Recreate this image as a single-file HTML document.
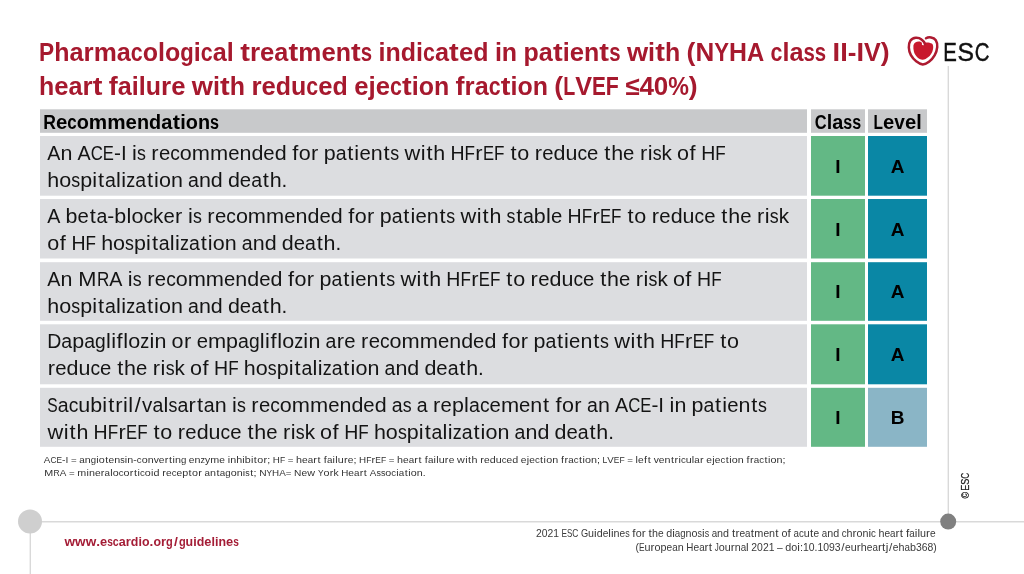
<!DOCTYPE html>
<html><head><meta charset="utf-8">
<style>
html,body{margin:0;padding:0;background:#fff;width:1024px;height:574px;overflow:hidden}
svg{display:block;will-change:transform}
text{font-family:"Liberation Sans",sans-serif}
</style></head><body>
<svg width="1024" height="574" viewBox="0 0 1024 574">
<line x1="948.3" y1="66" x2="948.3" y2="521.7" stroke="#d9d9d9" stroke-width="1.4"/>
<line x1="30" y1="521.7" x2="1024" y2="521.7" stroke="#d9d9d9" stroke-width="1.5"/>
<line x1="30.3" y1="521.7" x2="30.3" y2="574" stroke="#d9d9d9" stroke-width="1.4"/>
<circle cx="30" cy="521.6" r="12" fill="#cfcfcf"/>
<circle cx="948.2" cy="521.6" r="8" fill="#808080"/>
<svg x="905" y="34" width="36" height="34" viewBox="0 0 36 34">
<path d="M8.4 11.6 C8.8 9.2 11.2 7.6 13.8 7.6 C15.4 7.6 16.6 8.2 17.2 9.4 C19.8 8.2 24.2 8 26.8 9.6 C28.6 10.8 28.6 14.4 27.4 17.6 C25.8 21.8 21.6 25.6 17.6 25.8 C13.6 25.4 10.2 21.8 9 18 C8.4 16 8.2 13.6 8.4 11.6 Z" fill="#c8192e"/>
<circle cx="18.2" cy="9.9" r="1.4" fill="#fff"/>
<path d="M21 4.3 C23.6 2.7 28.6 3 30.8 6.2 C33.2 9.8 32.6 16.2 29.6 21.4 C26.6 26.6 21.6 30.4 17.8 30.5 C13.5 29.8 8.4 25.8 5.9 21.2 C3.4 16.6 3 10 5.5 6.5 C8 3 13.5 3 16.5 5.5 C18.5 7 19.8 8.5 19.8 10" fill="none" stroke="#ad1a30" stroke-width="2.5" stroke-linecap="round"/>
</svg>
<text font-size="25.5px" fill="#111" stroke="#111" stroke-width="0.45" transform="translate(943.13,60.8) scale(0.799,1)">E</text><text font-size="25.5px" fill="#111" stroke="#111" stroke-width="0.45" transform="translate(957.57,60.8) scale(0.972,1)">S</text><text font-size="25.5px" fill="#111" stroke="#111" stroke-width="0.45" transform="translate(974.86,60.8) scale(0.801,1)">C</text>
<rect x="40.0" y="109.3" width="767.0" height="23.5" fill="#c8c9cb"/>
<rect x="811.0" y="109.3" width="54.0" height="23.5" fill="#c8c9cb"/>
<rect x="868.0" y="109.3" width="59.0" height="23.5" fill="#c8c9cb"/>
<rect x="40.0" y="136.0" width="767.0" height="59.7" fill="#dcdde0"/>
<rect x="811.0" y="136.0" width="54.0" height="59.7" fill="#63b885"/>
<rect x="868.0" y="136.0" width="59.0" height="59.7" fill="#0a87a5"/>
<text x="838" y="172.7" font-size="19px" font-weight="bold" fill="#000" text-anchor="middle">I</text><text x="897.5" y="172.7" font-size="19px" font-weight="bold" fill="#000" text-anchor="middle">A</text>
<rect x="40.0" y="199.0" width="767.0" height="59.5" fill="#dcdde0"/>
<rect x="811.0" y="199.0" width="54.0" height="59.5" fill="#63b885"/>
<rect x="868.0" y="199.0" width="59.0" height="59.5" fill="#0a87a5"/>
<text x="838" y="235.6" font-size="19px" font-weight="bold" fill="#000" text-anchor="middle">I</text><text x="897.5" y="235.6" font-size="19px" font-weight="bold" fill="#000" text-anchor="middle">A</text>
<rect x="40.0" y="262.2" width="767.0" height="58.6" fill="#dcdde0"/>
<rect x="811.0" y="262.2" width="54.0" height="58.6" fill="#63b885"/>
<rect x="868.0" y="262.2" width="59.0" height="58.6" fill="#0a87a5"/>
<text x="838" y="298.3" font-size="19px" font-weight="bold" fill="#000" text-anchor="middle">I</text><text x="897.5" y="298.3" font-size="19px" font-weight="bold" fill="#000" text-anchor="middle">A</text>
<rect x="40.0" y="324.3" width="767.0" height="60.0" fill="#dcdde0"/>
<rect x="811.0" y="324.3" width="54.0" height="60.0" fill="#63b885"/>
<rect x="868.0" y="324.3" width="59.0" height="60.0" fill="#0a87a5"/>
<text x="838" y="361.1" font-size="19px" font-weight="bold" fill="#000" text-anchor="middle">I</text><text x="897.5" y="361.1" font-size="19px" font-weight="bold" fill="#000" text-anchor="middle">A</text>
<rect x="40.0" y="387.8" width="767.0" height="59.0" fill="#dcdde0"/>
<rect x="811.0" y="387.8" width="54.0" height="59.0" fill="#63b885"/>
<rect x="868.0" y="387.8" width="59.0" height="59.0" fill="#8ab5c6"/>
<text x="838" y="424.1" font-size="19px" font-weight="bold" fill="#000" text-anchor="middle">I</text><text x="897.5" y="424.1" font-size="19px" font-weight="bold" fill="#000" text-anchor="middle">B</text>
<text y="60.60" font-size="26.00px" font-weight="bold" fill="#a6192e"><tspan x="39.10" textLength="15.13" lengthAdjust="spacingAndGlyphs">P</tspan><tspan x="54.24" textLength="15.26" lengthAdjust="spacingAndGlyphs">h</tspan><tspan x="69.50" textLength="14.04" lengthAdjust="spacingAndGlyphs">a</tspan><tspan x="83.53">r</tspan><tspan x="93.64">m</tspan><tspan x="116.77" textLength="14.04" lengthAdjust="spacingAndGlyphs">a</tspan><tspan x="130.81" textLength="11.90" lengthAdjust="spacingAndGlyphs">c</tspan><tspan x="142.71" textLength="15.29" lengthAdjust="spacingAndGlyphs">o</tspan><tspan x="158.00" textLength="6.98" lengthAdjust="spacingAndGlyphs">l</tspan><tspan x="164.98" textLength="15.29" lengthAdjust="spacingAndGlyphs">o</tspan><tspan x="180.27" textLength="13.48" lengthAdjust="spacingAndGlyphs">g</tspan><tspan x="193.75" textLength="6.98" lengthAdjust="spacingAndGlyphs">i</tspan><tspan x="200.74" textLength="11.90" lengthAdjust="spacingAndGlyphs">c</tspan><tspan x="212.63" textLength="14.04" lengthAdjust="spacingAndGlyphs">a</tspan><tspan x="226.67" textLength="6.98" lengthAdjust="spacingAndGlyphs">l</tspan><tspan x="240.16" textLength="9.70" lengthAdjust="spacingAndGlyphs">t</tspan><tspan x="249.94">r</tspan><tspan x="260.05" textLength="14.32" lengthAdjust="spacingAndGlyphs">e</tspan><tspan x="274.37" textLength="14.04" lengthAdjust="spacingAndGlyphs">a</tspan><tspan x="288.48" textLength="9.70" lengthAdjust="spacingAndGlyphs">t</tspan><tspan x="298.26">m</tspan><tspan x="321.39" textLength="14.32" lengthAdjust="spacingAndGlyphs">e</tspan><tspan x="335.71" textLength="15.26" lengthAdjust="spacingAndGlyphs">n</tspan><tspan x="351.05" textLength="9.70" lengthAdjust="spacingAndGlyphs">t</tspan><tspan x="360.83" textLength="11.34" lengthAdjust="spacingAndGlyphs">s</tspan><tspan x="378.60" textLength="6.98" lengthAdjust="spacingAndGlyphs">i</tspan><tspan x="385.58" textLength="15.26" lengthAdjust="spacingAndGlyphs">n</tspan><tspan x="400.84" textLength="15.26" lengthAdjust="spacingAndGlyphs">d</tspan><tspan x="416.10" textLength="6.98" lengthAdjust="spacingAndGlyphs">i</tspan><tspan x="423.08" textLength="11.90" lengthAdjust="spacingAndGlyphs">c</tspan><tspan x="434.98" textLength="14.04" lengthAdjust="spacingAndGlyphs">a</tspan><tspan x="449.10" textLength="9.70" lengthAdjust="spacingAndGlyphs">t</tspan><tspan x="458.88" textLength="14.32" lengthAdjust="spacingAndGlyphs">e</tspan><tspan x="473.19" textLength="15.26" lengthAdjust="spacingAndGlyphs">d</tspan><tspan x="494.88" textLength="6.98" lengthAdjust="spacingAndGlyphs">i</tspan><tspan x="501.87" textLength="15.26" lengthAdjust="spacingAndGlyphs">n</tspan><tspan x="523.55" textLength="15.26" lengthAdjust="spacingAndGlyphs">p</tspan><tspan x="538.81" textLength="14.04" lengthAdjust="spacingAndGlyphs">a</tspan><tspan x="552.93" textLength="9.70" lengthAdjust="spacingAndGlyphs">t</tspan><tspan x="562.71" textLength="6.98" lengthAdjust="spacingAndGlyphs">i</tspan><tspan x="569.69" textLength="14.32" lengthAdjust="spacingAndGlyphs">e</tspan><tspan x="584.01" textLength="15.26" lengthAdjust="spacingAndGlyphs">n</tspan><tspan x="599.35" textLength="9.70" lengthAdjust="spacingAndGlyphs">t</tspan><tspan x="609.13" textLength="11.34" lengthAdjust="spacingAndGlyphs">s</tspan><tspan x="626.90" textLength="21.19" lengthAdjust="spacingAndGlyphs">w</tspan><tspan x="648.09" textLength="6.98" lengthAdjust="spacingAndGlyphs">i</tspan><tspan x="655.15" textLength="9.70" lengthAdjust="spacingAndGlyphs">t</tspan><tspan x="664.93" textLength="15.26" lengthAdjust="spacingAndGlyphs">h</tspan><tspan x="686.62" textLength="8.86" lengthAdjust="spacingAndGlyphs">(</tspan><tspan x="695.47">N</tspan><tspan x="714.21" textLength="14.77" lengthAdjust="spacingAndGlyphs">Y</tspan><tspan x="728.98" textLength="17.94" lengthAdjust="spacingAndGlyphs">H</tspan><tspan x="746.92" textLength="17.23" lengthAdjust="spacingAndGlyphs">A</tspan><tspan x="770.58" textLength="11.90" lengthAdjust="spacingAndGlyphs">c</tspan><tspan x="782.48" textLength="6.98" lengthAdjust="spacingAndGlyphs">l</tspan><tspan x="789.46" textLength="14.04" lengthAdjust="spacingAndGlyphs">a</tspan><tspan x="803.50" textLength="11.34" lengthAdjust="spacingAndGlyphs">s</tspan><tspan x="814.84" textLength="11.34" lengthAdjust="spacingAndGlyphs">s</tspan><tspan x="832.61" textLength="7.58" lengthAdjust="spacingAndGlyphs">I</tspan><tspan x="840.19" textLength="7.58" lengthAdjust="spacingAndGlyphs">I</tspan><tspan x="847.78">-</tspan><tspan x="856.48" textLength="7.58" lengthAdjust="spacingAndGlyphs">I</tspan><tspan x="864.06" textLength="16.81" lengthAdjust="spacingAndGlyphs">V</tspan><tspan x="880.88" textLength="8.86" lengthAdjust="spacingAndGlyphs">)</tspan></text>
<text y="94.60" font-size="26.00px" font-weight="bold" fill="#a6192e"><tspan x="38.97" textLength="15.24" lengthAdjust="spacingAndGlyphs">h</tspan><tspan x="54.20" textLength="14.29" lengthAdjust="spacingAndGlyphs">e</tspan><tspan x="68.50" textLength="14.02" lengthAdjust="spacingAndGlyphs">a</tspan><tspan x="82.51">r</tspan><tspan x="92.68" textLength="9.70" lengthAdjust="spacingAndGlyphs">t</tspan><tspan x="108.87" textLength="8.98" lengthAdjust="spacingAndGlyphs">f</tspan><tspan x="117.85" textLength="14.02" lengthAdjust="spacingAndGlyphs">a</tspan><tspan x="131.87" textLength="6.97" lengthAdjust="spacingAndGlyphs">i</tspan><tspan x="138.84" textLength="6.97" lengthAdjust="spacingAndGlyphs">l</tspan><tspan x="145.81" textLength="15.24" lengthAdjust="spacingAndGlyphs">u</tspan><tspan x="161.05">r</tspan><tspan x="171.14" textLength="14.29" lengthAdjust="spacingAndGlyphs">e</tspan><tspan x="191.85" textLength="21.16" lengthAdjust="spacingAndGlyphs">w</tspan><tspan x="213.01" textLength="6.97" lengthAdjust="spacingAndGlyphs">i</tspan><tspan x="220.06" textLength="9.70" lengthAdjust="spacingAndGlyphs">t</tspan><tspan x="229.83" textLength="15.24" lengthAdjust="spacingAndGlyphs">h</tspan><tspan x="251.48">r</tspan><tspan x="261.57" textLength="14.29" lengthAdjust="spacingAndGlyphs">e</tspan><tspan x="275.87" textLength="15.24" lengthAdjust="spacingAndGlyphs">d</tspan><tspan x="291.10" textLength="15.24" lengthAdjust="spacingAndGlyphs">u</tspan><tspan x="306.34" textLength="11.88" lengthAdjust="spacingAndGlyphs">c</tspan><tspan x="318.22" textLength="14.29" lengthAdjust="spacingAndGlyphs">e</tspan><tspan x="332.51" textLength="15.24" lengthAdjust="spacingAndGlyphs">d</tspan><tspan x="354.17" textLength="14.29" lengthAdjust="spacingAndGlyphs">e</tspan><tspan x="368.46">j</tspan><tspan x="375.71" textLength="14.29" lengthAdjust="spacingAndGlyphs">e</tspan><tspan x="390.00" textLength="11.88" lengthAdjust="spacingAndGlyphs">c</tspan><tspan x="401.96" textLength="9.70" lengthAdjust="spacingAndGlyphs">t</tspan><tspan x="411.73" textLength="6.97" lengthAdjust="spacingAndGlyphs">i</tspan><tspan x="418.70" textLength="15.26" lengthAdjust="spacingAndGlyphs">o</tspan><tspan x="433.97" textLength="15.24" lengthAdjust="spacingAndGlyphs">n</tspan><tspan x="455.62" textLength="8.98" lengthAdjust="spacingAndGlyphs">f</tspan><tspan x="464.60">r</tspan><tspan x="474.70" textLength="14.02" lengthAdjust="spacingAndGlyphs">a</tspan><tspan x="488.71" textLength="11.88" lengthAdjust="spacingAndGlyphs">c</tspan><tspan x="500.67" textLength="9.70" lengthAdjust="spacingAndGlyphs">t</tspan><tspan x="510.44" textLength="6.97" lengthAdjust="spacingAndGlyphs">i</tspan><tspan x="517.41" textLength="15.26" lengthAdjust="spacingAndGlyphs">o</tspan><tspan x="532.67" textLength="15.24" lengthAdjust="spacingAndGlyphs">n</tspan><tspan x="554.33" textLength="8.84" lengthAdjust="spacingAndGlyphs">(</tspan><tspan x="563.17" textLength="12.01" lengthAdjust="spacingAndGlyphs">L</tspan><tspan x="575.18" textLength="16.79" lengthAdjust="spacingAndGlyphs">V</tspan><tspan x="591.97" textLength="13.85" lengthAdjust="spacingAndGlyphs">E</tspan><tspan x="605.82" textLength="13.03" lengthAdjust="spacingAndGlyphs">F</tspan><tspan x="625.27">≤</tspan><tspan x="639.41">4</tspan><tspan x="653.80">0</tspan><tspan x="668.19" textLength="20.70" lengthAdjust="spacingAndGlyphs">%</tspan><tspan x="688.89" textLength="8.84" lengthAdjust="spacingAndGlyphs">)</tspan></text>
<text y="128.50" font-size="19.50px" font-weight="bold" fill="#000"><tspan x="43.20" textLength="12.72" lengthAdjust="spacingAndGlyphs">R</tspan><tspan x="55.92" textLength="11.37" lengthAdjust="spacingAndGlyphs">e</tspan><tspan x="67.29" textLength="9.45" lengthAdjust="spacingAndGlyphs">c</tspan><tspan x="76.74" textLength="12.14" lengthAdjust="spacingAndGlyphs">o</tspan><tspan x="88.89" textLength="18.38" lengthAdjust="spacingAndGlyphs">m</tspan><tspan x="107.27" textLength="18.38" lengthAdjust="spacingAndGlyphs">m</tspan><tspan x="125.64" textLength="11.37" lengthAdjust="spacingAndGlyphs">e</tspan><tspan x="137.02" textLength="12.12" lengthAdjust="spacingAndGlyphs">n</tspan><tspan x="149.14" textLength="12.12" lengthAdjust="spacingAndGlyphs">d</tspan><tspan x="161.26" textLength="11.15" lengthAdjust="spacingAndGlyphs">a</tspan><tspan x="172.69" textLength="7.27" lengthAdjust="spacingAndGlyphs">t</tspan><tspan x="180.25" textLength="5.55" lengthAdjust="spacingAndGlyphs">i</tspan><tspan x="185.79" textLength="12.14" lengthAdjust="spacingAndGlyphs">o</tspan><tspan x="197.94" textLength="12.12" lengthAdjust="spacingAndGlyphs">n</tspan><tspan x="210.06" textLength="9.01" lengthAdjust="spacingAndGlyphs">s</tspan></text>
<text y="128.50" font-size="19.50px" font-weight="bold" fill="#000"><tspan x="814.84" textLength="11.87" lengthAdjust="spacingAndGlyphs">C</tspan><tspan x="826.71" textLength="5.51" lengthAdjust="spacingAndGlyphs">l</tspan><tspan x="832.21" textLength="11.07" lengthAdjust="spacingAndGlyphs">a</tspan><tspan x="843.28" textLength="8.94" lengthAdjust="spacingAndGlyphs">s</tspan><tspan x="852.23" textLength="8.94" lengthAdjust="spacingAndGlyphs">s</tspan></text>
<text y="128.50" font-size="19.50px" font-weight="bold" fill="#000"><tspan x="873.62" textLength="9.45" lengthAdjust="spacingAndGlyphs">L</tspan><tspan x="883.07" textLength="11.25" lengthAdjust="spacingAndGlyphs">e</tspan><tspan x="894.33" textLength="10.58" lengthAdjust="spacingAndGlyphs">v</tspan><tspan x="904.91" textLength="11.25" lengthAdjust="spacingAndGlyphs">e</tspan><tspan x="916.16" textLength="5.49" lengthAdjust="spacingAndGlyphs">l</tspan></text>
<text y="159.90" font-size="19.50px" font-weight="normal" fill="#141414"><tspan x="47.35" textLength="13.15" lengthAdjust="spacingAndGlyphs">A</tspan><tspan x="60.50" textLength="11.94" lengthAdjust="spacingAndGlyphs">n</tspan><tspan x="77.58" textLength="13.15" lengthAdjust="spacingAndGlyphs">A</tspan><tspan x="90.73" textLength="12.12" lengthAdjust="spacingAndGlyphs">C</tspan><tspan x="102.85" textLength="11.10" lengthAdjust="spacingAndGlyphs">E</tspan><tspan x="113.95" textLength="6.96" lengthAdjust="spacingAndGlyphs">-</tspan><tspan x="120.91" textLength="5.73" lengthAdjust="spacingAndGlyphs">I</tspan><tspan x="131.96" textLength="4.85" lengthAdjust="spacingAndGlyphs">i</tspan><tspan x="136.99" textLength="8.89" lengthAdjust="spacingAndGlyphs">s</tspan><tspan x="151.35" textLength="7.27" lengthAdjust="spacingAndGlyphs">r</tspan><tspan x="158.95" textLength="11.31" lengthAdjust="spacingAndGlyphs">e</tspan><tspan x="170.26" textLength="9.61" lengthAdjust="spacingAndGlyphs">c</tspan><tspan x="179.87" textLength="11.99" lengthAdjust="spacingAndGlyphs">o</tspan><tspan x="191.85" textLength="18.16" lengthAdjust="spacingAndGlyphs">m</tspan><tspan x="210.01" textLength="18.16" lengthAdjust="spacingAndGlyphs">m</tspan><tspan x="228.17" textLength="11.31" lengthAdjust="spacingAndGlyphs">e</tspan><tspan x="239.48" textLength="11.94" lengthAdjust="spacingAndGlyphs">n</tspan><tspan x="251.42" textLength="11.94" lengthAdjust="spacingAndGlyphs">d</tspan><tspan x="263.36" textLength="11.31" lengthAdjust="spacingAndGlyphs">e</tspan><tspan x="274.67" textLength="11.94" lengthAdjust="spacingAndGlyphs">d</tspan><tspan x="292.19" textLength="6.07" lengthAdjust="spacingAndGlyphs">f</tspan><tspan x="298.69" textLength="11.99" lengthAdjust="spacingAndGlyphs">o</tspan><tspan x="311.00" textLength="7.27" lengthAdjust="spacingAndGlyphs">r</tspan><tspan x="323.74" textLength="11.94" lengthAdjust="spacingAndGlyphs">p</tspan><tspan x="335.68">a</tspan><tspan x="347.34" textLength="6.07" lengthAdjust="spacingAndGlyphs">t</tspan><tspan x="354.36" textLength="4.85" lengthAdjust="spacingAndGlyphs">i</tspan><tspan x="359.40" textLength="11.31" lengthAdjust="spacingAndGlyphs">e</tspan><tspan x="370.71" textLength="11.94" lengthAdjust="spacingAndGlyphs">n</tspan><tspan x="383.42" textLength="6.07" lengthAdjust="spacingAndGlyphs">t</tspan><tspan x="390.26" textLength="8.89" lengthAdjust="spacingAndGlyphs">s</tspan><tspan x="404.53" textLength="15.77" lengthAdjust="spacingAndGlyphs">w</tspan><tspan x="420.72" textLength="4.85" lengthAdjust="spacingAndGlyphs">i</tspan><tspan x="426.53" textLength="6.07" lengthAdjust="spacingAndGlyphs">t</tspan><tspan x="433.37" textLength="11.94" lengthAdjust="spacingAndGlyphs">h</tspan><tspan x="450.45">H</tspan><tspan x="464.61" textLength="10.44" lengthAdjust="spacingAndGlyphs">F</tspan><tspan x="475.38" textLength="7.27" lengthAdjust="spacingAndGlyphs">r</tspan><tspan x="482.98" textLength="11.10" lengthAdjust="spacingAndGlyphs">E</tspan><tspan x="494.08" textLength="10.44" lengthAdjust="spacingAndGlyphs">F</tspan><tspan x="510.44" textLength="6.07" lengthAdjust="spacingAndGlyphs">t</tspan><tspan x="517.28" textLength="11.99" lengthAdjust="spacingAndGlyphs">o</tspan><tspan x="534.73" textLength="7.27" lengthAdjust="spacingAndGlyphs">r</tspan><tspan x="542.33" textLength="11.31" lengthAdjust="spacingAndGlyphs">e</tspan><tspan x="553.64" textLength="11.94" lengthAdjust="spacingAndGlyphs">d</tspan><tspan x="565.58" textLength="11.94" lengthAdjust="spacingAndGlyphs">u</tspan><tspan x="577.52" textLength="9.61" lengthAdjust="spacingAndGlyphs">c</tspan><tspan x="587.13" textLength="11.31" lengthAdjust="spacingAndGlyphs">e</tspan><tspan x="604.35" textLength="6.07" lengthAdjust="spacingAndGlyphs">t</tspan><tspan x="611.19" textLength="11.94" lengthAdjust="spacingAndGlyphs">h</tspan><tspan x="623.14" textLength="11.31" lengthAdjust="spacingAndGlyphs">e</tspan><tspan x="639.91" textLength="7.27" lengthAdjust="spacingAndGlyphs">r</tspan><tspan x="647.69" textLength="4.85" lengthAdjust="spacingAndGlyphs">i</tspan><tspan x="652.72" textLength="8.89" lengthAdjust="spacingAndGlyphs">s</tspan><tspan x="661.61" textLength="10.33" lengthAdjust="spacingAndGlyphs">k</tspan><tspan x="677.09" textLength="11.99" lengthAdjust="spacingAndGlyphs">o</tspan><tspan x="689.51" textLength="6.07" lengthAdjust="spacingAndGlyphs">f</tspan><tspan x="701.15">H</tspan><tspan x="715.31" textLength="10.44" lengthAdjust="spacingAndGlyphs">F</tspan></text>
<text y="186.80" font-size="19.50px" font-weight="normal" fill="#141414"><tspan x="47.35" textLength="11.94" lengthAdjust="spacingAndGlyphs">h</tspan><tspan x="59.29" textLength="11.99" lengthAdjust="spacingAndGlyphs">o</tspan><tspan x="71.28" textLength="8.89" lengthAdjust="spacingAndGlyphs">s</tspan><tspan x="80.17" textLength="11.94" lengthAdjust="spacingAndGlyphs">p</tspan><tspan x="92.29" textLength="4.85" lengthAdjust="spacingAndGlyphs">i</tspan><tspan x="98.10" textLength="6.07" lengthAdjust="spacingAndGlyphs">t</tspan><tspan x="104.94">a</tspan><tspan x="116.01" textLength="4.85" lengthAdjust="spacingAndGlyphs">l</tspan><tspan x="121.23" textLength="4.85" lengthAdjust="spacingAndGlyphs">i</tspan><tspan x="126.26" textLength="8.98" lengthAdjust="spacingAndGlyphs">z</tspan><tspan x="135.24">a</tspan><tspan x="146.90" textLength="6.07" lengthAdjust="spacingAndGlyphs">t</tspan><tspan x="153.92" textLength="4.85" lengthAdjust="spacingAndGlyphs">i</tspan><tspan x="158.96" textLength="11.99" lengthAdjust="spacingAndGlyphs">o</tspan><tspan x="170.94" textLength="11.94" lengthAdjust="spacingAndGlyphs">n</tspan><tspan x="188.03">a</tspan><tspan x="198.91" textLength="11.94" lengthAdjust="spacingAndGlyphs">n</tspan><tspan x="210.86" textLength="11.94" lengthAdjust="spacingAndGlyphs">d</tspan><tspan x="227.94" textLength="11.94" lengthAdjust="spacingAndGlyphs">d</tspan><tspan x="239.88" textLength="11.31" lengthAdjust="spacingAndGlyphs">e</tspan><tspan x="251.19">a</tspan><tspan x="262.85" textLength="6.07" lengthAdjust="spacingAndGlyphs">t</tspan><tspan x="269.69" textLength="11.94" lengthAdjust="spacingAndGlyphs">h</tspan><tspan x="281.63" textLength="5.74" lengthAdjust="spacingAndGlyphs">.</tspan></text>
<text y="222.80" font-size="19.50px" font-weight="normal" fill="#141414"><tspan x="47.35" textLength="13.15" lengthAdjust="spacingAndGlyphs">A</tspan><tspan x="65.64" textLength="11.94" lengthAdjust="spacingAndGlyphs">b</tspan><tspan x="77.58" textLength="11.31" lengthAdjust="spacingAndGlyphs">e</tspan><tspan x="89.67" textLength="6.07" lengthAdjust="spacingAndGlyphs">t</tspan><tspan x="96.51">a</tspan><tspan x="107.39" textLength="6.96" lengthAdjust="spacingAndGlyphs">-</tspan><tspan x="114.35" textLength="11.94" lengthAdjust="spacingAndGlyphs">b</tspan><tspan x="126.48" textLength="4.85" lengthAdjust="spacingAndGlyphs">l</tspan><tspan x="131.51" textLength="11.99" lengthAdjust="spacingAndGlyphs">o</tspan><tspan x="143.50" textLength="9.61" lengthAdjust="spacingAndGlyphs">c</tspan><tspan x="153.11" textLength="10.33" lengthAdjust="spacingAndGlyphs">k</tspan><tspan x="163.44" textLength="11.31" lengthAdjust="spacingAndGlyphs">e</tspan><tspan x="175.08" textLength="7.27" lengthAdjust="spacingAndGlyphs">r</tspan><tspan x="188.00" textLength="4.85" lengthAdjust="spacingAndGlyphs">i</tspan><tspan x="193.03" textLength="8.89" lengthAdjust="spacingAndGlyphs">s</tspan><tspan x="207.39" textLength="7.27" lengthAdjust="spacingAndGlyphs">r</tspan><tspan x="214.98" textLength="11.31" lengthAdjust="spacingAndGlyphs">e</tspan><tspan x="226.29" textLength="9.61" lengthAdjust="spacingAndGlyphs">c</tspan><tspan x="235.90" textLength="11.99" lengthAdjust="spacingAndGlyphs">o</tspan><tspan x="247.89" textLength="18.16" lengthAdjust="spacingAndGlyphs">m</tspan><tspan x="266.05" textLength="18.16" lengthAdjust="spacingAndGlyphs">m</tspan><tspan x="284.21" textLength="11.31" lengthAdjust="spacingAndGlyphs">e</tspan><tspan x="295.52" textLength="11.94" lengthAdjust="spacingAndGlyphs">n</tspan><tspan x="307.46" textLength="11.94" lengthAdjust="spacingAndGlyphs">d</tspan><tspan x="319.40" textLength="11.31" lengthAdjust="spacingAndGlyphs">e</tspan><tspan x="330.71" textLength="11.94" lengthAdjust="spacingAndGlyphs">d</tspan><tspan x="348.22" textLength="6.07" lengthAdjust="spacingAndGlyphs">f</tspan><tspan x="354.73" textLength="11.99" lengthAdjust="spacingAndGlyphs">o</tspan><tspan x="367.04" textLength="7.27" lengthAdjust="spacingAndGlyphs">r</tspan><tspan x="379.78" textLength="11.94" lengthAdjust="spacingAndGlyphs">p</tspan><tspan x="391.72">a</tspan><tspan x="403.38" textLength="6.07" lengthAdjust="spacingAndGlyphs">t</tspan><tspan x="410.40" textLength="4.85" lengthAdjust="spacingAndGlyphs">i</tspan><tspan x="415.44" textLength="11.31" lengthAdjust="spacingAndGlyphs">e</tspan><tspan x="426.75" textLength="11.94" lengthAdjust="spacingAndGlyphs">n</tspan><tspan x="439.46" textLength="6.07" lengthAdjust="spacingAndGlyphs">t</tspan><tspan x="446.30" textLength="8.89" lengthAdjust="spacingAndGlyphs">s</tspan><tspan x="460.57" textLength="15.77" lengthAdjust="spacingAndGlyphs">w</tspan><tspan x="476.76" textLength="4.85" lengthAdjust="spacingAndGlyphs">i</tspan><tspan x="482.57" textLength="6.07" lengthAdjust="spacingAndGlyphs">t</tspan><tspan x="489.41" textLength="11.94" lengthAdjust="spacingAndGlyphs">h</tspan><tspan x="506.49" textLength="8.89" lengthAdjust="spacingAndGlyphs">s</tspan><tspan x="516.15" textLength="6.07" lengthAdjust="spacingAndGlyphs">t</tspan><tspan x="522.99">a</tspan><tspan x="533.88" textLength="11.94" lengthAdjust="spacingAndGlyphs">b</tspan><tspan x="546.00" textLength="4.85" lengthAdjust="spacingAndGlyphs">l</tspan><tspan x="551.04" textLength="11.31" lengthAdjust="spacingAndGlyphs">e</tspan><tspan x="567.49">H</tspan><tspan x="581.65" textLength="10.44" lengthAdjust="spacingAndGlyphs">F</tspan><tspan x="592.42" textLength="7.27" lengthAdjust="spacingAndGlyphs">r</tspan><tspan x="600.02" textLength="11.10" lengthAdjust="spacingAndGlyphs">E</tspan><tspan x="611.12" textLength="10.44" lengthAdjust="spacingAndGlyphs">F</tspan><tspan x="627.47" textLength="6.07" lengthAdjust="spacingAndGlyphs">t</tspan><tspan x="634.31" textLength="11.99" lengthAdjust="spacingAndGlyphs">o</tspan><tspan x="651.76" textLength="7.27" lengthAdjust="spacingAndGlyphs">r</tspan><tspan x="659.36" textLength="11.31" lengthAdjust="spacingAndGlyphs">e</tspan><tspan x="670.67" textLength="11.94" lengthAdjust="spacingAndGlyphs">d</tspan><tspan x="682.61" textLength="11.94" lengthAdjust="spacingAndGlyphs">u</tspan><tspan x="694.56" textLength="9.61" lengthAdjust="spacingAndGlyphs">c</tspan><tspan x="704.17" textLength="11.31" lengthAdjust="spacingAndGlyphs">e</tspan><tspan x="721.39" textLength="6.07" lengthAdjust="spacingAndGlyphs">t</tspan><tspan x="728.23" textLength="11.94" lengthAdjust="spacingAndGlyphs">h</tspan><tspan x="740.17" textLength="11.31" lengthAdjust="spacingAndGlyphs">e</tspan><tspan x="756.94" textLength="7.27" lengthAdjust="spacingAndGlyphs">r</tspan><tspan x="764.73" textLength="4.85" lengthAdjust="spacingAndGlyphs">i</tspan><tspan x="769.76" textLength="8.89" lengthAdjust="spacingAndGlyphs">s</tspan><tspan x="778.65" textLength="10.33" lengthAdjust="spacingAndGlyphs">k</tspan></text>
<text y="249.70" font-size="19.50px" font-weight="normal" fill="#141414"><tspan x="47.35" textLength="11.99" lengthAdjust="spacingAndGlyphs">o</tspan><tspan x="59.77" textLength="6.07" lengthAdjust="spacingAndGlyphs">f</tspan><tspan x="71.41">H</tspan><tspan x="85.57" textLength="10.44" lengthAdjust="spacingAndGlyphs">F</tspan><tspan x="101.16" textLength="11.94" lengthAdjust="spacingAndGlyphs">h</tspan><tspan x="113.10" textLength="11.99" lengthAdjust="spacingAndGlyphs">o</tspan><tspan x="125.08" textLength="8.89" lengthAdjust="spacingAndGlyphs">s</tspan><tspan x="133.97" textLength="11.94" lengthAdjust="spacingAndGlyphs">p</tspan><tspan x="146.10" textLength="4.85" lengthAdjust="spacingAndGlyphs">i</tspan><tspan x="151.91" textLength="6.07" lengthAdjust="spacingAndGlyphs">t</tspan><tspan x="158.75">a</tspan><tspan x="169.82" textLength="4.85" lengthAdjust="spacingAndGlyphs">l</tspan><tspan x="175.03" textLength="4.85" lengthAdjust="spacingAndGlyphs">i</tspan><tspan x="180.07" textLength="8.98" lengthAdjust="spacingAndGlyphs">z</tspan><tspan x="189.05">a</tspan><tspan x="200.71" textLength="6.07" lengthAdjust="spacingAndGlyphs">t</tspan><tspan x="207.73" textLength="4.85" lengthAdjust="spacingAndGlyphs">i</tspan><tspan x="212.76" textLength="11.99" lengthAdjust="spacingAndGlyphs">o</tspan><tspan x="224.75" textLength="11.94" lengthAdjust="spacingAndGlyphs">n</tspan><tspan x="241.83">a</tspan><tspan x="252.72" textLength="11.94" lengthAdjust="spacingAndGlyphs">n</tspan><tspan x="264.66" textLength="11.94" lengthAdjust="spacingAndGlyphs">d</tspan><tspan x="281.74" textLength="11.94" lengthAdjust="spacingAndGlyphs">d</tspan><tspan x="293.68" textLength="11.31" lengthAdjust="spacingAndGlyphs">e</tspan><tspan x="304.99">a</tspan><tspan x="316.65" textLength="6.07" lengthAdjust="spacingAndGlyphs">t</tspan><tspan x="323.50" textLength="11.94" lengthAdjust="spacingAndGlyphs">h</tspan><tspan x="335.44" textLength="5.74" lengthAdjust="spacingAndGlyphs">.</tspan></text>
<text y="285.90" font-size="19.50px" font-weight="normal" fill="#141414"><tspan x="47.35" textLength="13.15" lengthAdjust="spacingAndGlyphs">A</tspan><tspan x="60.50" textLength="11.94" lengthAdjust="spacingAndGlyphs">n</tspan><tspan x="78.20" textLength="18.19" lengthAdjust="spacingAndGlyphs">M</tspan><tspan x="97.02" textLength="12.34" lengthAdjust="spacingAndGlyphs">R</tspan><tspan x="109.36" textLength="13.15" lengthAdjust="spacingAndGlyphs">A</tspan><tspan x="127.83" textLength="4.85" lengthAdjust="spacingAndGlyphs">i</tspan><tspan x="132.86" textLength="8.89" lengthAdjust="spacingAndGlyphs">s</tspan><tspan x="147.22" textLength="7.27" lengthAdjust="spacingAndGlyphs">r</tspan><tspan x="154.82" textLength="11.31" lengthAdjust="spacingAndGlyphs">e</tspan><tspan x="166.13" textLength="9.61" lengthAdjust="spacingAndGlyphs">c</tspan><tspan x="175.74" textLength="11.99" lengthAdjust="spacingAndGlyphs">o</tspan><tspan x="187.73" textLength="18.16" lengthAdjust="spacingAndGlyphs">m</tspan><tspan x="205.88" textLength="18.16" lengthAdjust="spacingAndGlyphs">m</tspan><tspan x="224.04" textLength="11.31" lengthAdjust="spacingAndGlyphs">e</tspan><tspan x="235.35" textLength="11.94" lengthAdjust="spacingAndGlyphs">n</tspan><tspan x="247.29" textLength="11.94" lengthAdjust="spacingAndGlyphs">d</tspan><tspan x="259.23" textLength="11.31" lengthAdjust="spacingAndGlyphs">e</tspan><tspan x="270.54" textLength="11.94" lengthAdjust="spacingAndGlyphs">d</tspan><tspan x="288.06" textLength="6.07" lengthAdjust="spacingAndGlyphs">f</tspan><tspan x="294.56" textLength="11.99" lengthAdjust="spacingAndGlyphs">o</tspan><tspan x="306.87" textLength="7.27" lengthAdjust="spacingAndGlyphs">r</tspan><tspan x="319.61" textLength="11.94" lengthAdjust="spacingAndGlyphs">p</tspan><tspan x="331.55">a</tspan><tspan x="343.21" textLength="6.07" lengthAdjust="spacingAndGlyphs">t</tspan><tspan x="350.24" textLength="4.85" lengthAdjust="spacingAndGlyphs">i</tspan><tspan x="355.27" textLength="11.31" lengthAdjust="spacingAndGlyphs">e</tspan><tspan x="366.58" textLength="11.94" lengthAdjust="spacingAndGlyphs">n</tspan><tspan x="379.30" textLength="6.07" lengthAdjust="spacingAndGlyphs">t</tspan><tspan x="386.14" textLength="8.89" lengthAdjust="spacingAndGlyphs">s</tspan><tspan x="400.40" textLength="15.77" lengthAdjust="spacingAndGlyphs">w</tspan><tspan x="416.59" textLength="4.85" lengthAdjust="spacingAndGlyphs">i</tspan><tspan x="422.40" textLength="6.07" lengthAdjust="spacingAndGlyphs">t</tspan><tspan x="429.24" textLength="11.94" lengthAdjust="spacingAndGlyphs">h</tspan><tspan x="446.32">H</tspan><tspan x="460.49" textLength="10.44" lengthAdjust="spacingAndGlyphs">F</tspan><tspan x="471.26" textLength="7.27" lengthAdjust="spacingAndGlyphs">r</tspan><tspan x="478.85" textLength="11.10" lengthAdjust="spacingAndGlyphs">E</tspan><tspan x="489.95" textLength="10.44" lengthAdjust="spacingAndGlyphs">F</tspan><tspan x="506.31" textLength="6.07" lengthAdjust="spacingAndGlyphs">t</tspan><tspan x="513.15" textLength="11.99" lengthAdjust="spacingAndGlyphs">o</tspan><tspan x="530.60" textLength="7.27" lengthAdjust="spacingAndGlyphs">r</tspan><tspan x="538.20" textLength="11.31" lengthAdjust="spacingAndGlyphs">e</tspan><tspan x="549.51" textLength="11.94" lengthAdjust="spacingAndGlyphs">d</tspan><tspan x="561.45" textLength="11.94" lengthAdjust="spacingAndGlyphs">u</tspan><tspan x="573.39" textLength="9.61" lengthAdjust="spacingAndGlyphs">c</tspan><tspan x="583.00" textLength="11.31" lengthAdjust="spacingAndGlyphs">e</tspan><tspan x="600.22" textLength="6.07" lengthAdjust="spacingAndGlyphs">t</tspan><tspan x="607.07" textLength="11.94" lengthAdjust="spacingAndGlyphs">h</tspan><tspan x="619.01" textLength="11.31" lengthAdjust="spacingAndGlyphs">e</tspan><tspan x="635.78" textLength="7.27" lengthAdjust="spacingAndGlyphs">r</tspan><tspan x="643.56" textLength="4.85" lengthAdjust="spacingAndGlyphs">i</tspan><tspan x="648.60" textLength="8.89" lengthAdjust="spacingAndGlyphs">s</tspan><tspan x="657.49" textLength="10.33" lengthAdjust="spacingAndGlyphs">k</tspan><tspan x="672.96" textLength="11.99" lengthAdjust="spacingAndGlyphs">o</tspan><tspan x="685.38" textLength="6.07" lengthAdjust="spacingAndGlyphs">f</tspan><tspan x="697.02">H</tspan><tspan x="711.18" textLength="10.44" lengthAdjust="spacingAndGlyphs">F</tspan></text>
<text y="312.80" font-size="19.50px" font-weight="normal" fill="#141414"><tspan x="47.35" textLength="11.94" lengthAdjust="spacingAndGlyphs">h</tspan><tspan x="59.29" textLength="11.99" lengthAdjust="spacingAndGlyphs">o</tspan><tspan x="71.28" textLength="8.89" lengthAdjust="spacingAndGlyphs">s</tspan><tspan x="80.17" textLength="11.94" lengthAdjust="spacingAndGlyphs">p</tspan><tspan x="92.29" textLength="4.85" lengthAdjust="spacingAndGlyphs">i</tspan><tspan x="98.10" textLength="6.07" lengthAdjust="spacingAndGlyphs">t</tspan><tspan x="104.94">a</tspan><tspan x="116.01" textLength="4.85" lengthAdjust="spacingAndGlyphs">l</tspan><tspan x="121.23" textLength="4.85" lengthAdjust="spacingAndGlyphs">i</tspan><tspan x="126.26" textLength="8.98" lengthAdjust="spacingAndGlyphs">z</tspan><tspan x="135.24">a</tspan><tspan x="146.90" textLength="6.07" lengthAdjust="spacingAndGlyphs">t</tspan><tspan x="153.92" textLength="4.85" lengthAdjust="spacingAndGlyphs">i</tspan><tspan x="158.96" textLength="11.99" lengthAdjust="spacingAndGlyphs">o</tspan><tspan x="170.94" textLength="11.94" lengthAdjust="spacingAndGlyphs">n</tspan><tspan x="188.03">a</tspan><tspan x="198.91" textLength="11.94" lengthAdjust="spacingAndGlyphs">n</tspan><tspan x="210.86" textLength="11.94" lengthAdjust="spacingAndGlyphs">d</tspan><tspan x="227.94" textLength="11.94" lengthAdjust="spacingAndGlyphs">d</tspan><tspan x="239.88" textLength="11.31" lengthAdjust="spacingAndGlyphs">e</tspan><tspan x="251.19">a</tspan><tspan x="262.85" textLength="6.07" lengthAdjust="spacingAndGlyphs">t</tspan><tspan x="269.69" textLength="11.94" lengthAdjust="spacingAndGlyphs">h</tspan><tspan x="281.63" textLength="5.74" lengthAdjust="spacingAndGlyphs">.</tspan></text>
<text y="348.20" font-size="19.50px" font-weight="normal" fill="#141414"><tspan x="47.35">D</tspan><tspan x="61.33">a</tspan><tspan x="72.22" textLength="11.94" lengthAdjust="spacingAndGlyphs">p</tspan><tspan x="84.16">a</tspan><tspan x="95.05" textLength="10.70" lengthAdjust="spacingAndGlyphs">g</tspan><tspan x="105.93" textLength="4.85" lengthAdjust="spacingAndGlyphs">l</tspan><tspan x="111.15" textLength="4.85" lengthAdjust="spacingAndGlyphs">i</tspan><tspan x="116.62" textLength="6.07" lengthAdjust="spacingAndGlyphs">f</tspan><tspan x="123.30" textLength="4.85" lengthAdjust="spacingAndGlyphs">l</tspan><tspan x="128.34" textLength="11.99" lengthAdjust="spacingAndGlyphs">o</tspan><tspan x="140.32" textLength="8.98" lengthAdjust="spacingAndGlyphs">z</tspan><tspan x="149.48" textLength="4.85" lengthAdjust="spacingAndGlyphs">i</tspan><tspan x="154.52" textLength="11.94" lengthAdjust="spacingAndGlyphs">n</tspan><tspan x="171.60" textLength="11.99" lengthAdjust="spacingAndGlyphs">o</tspan><tspan x="183.91" textLength="7.27" lengthAdjust="spacingAndGlyphs">r</tspan><tspan x="196.65" textLength="11.31" lengthAdjust="spacingAndGlyphs">e</tspan><tspan x="207.96" textLength="18.16" lengthAdjust="spacingAndGlyphs">m</tspan><tspan x="226.12" textLength="11.94" lengthAdjust="spacingAndGlyphs">p</tspan><tspan x="238.06">a</tspan><tspan x="248.95" textLength="10.70" lengthAdjust="spacingAndGlyphs">g</tspan><tspan x="259.83" textLength="4.85" lengthAdjust="spacingAndGlyphs">l</tspan><tspan x="265.04" textLength="4.85" lengthAdjust="spacingAndGlyphs">i</tspan><tspan x="270.51" textLength="6.07" lengthAdjust="spacingAndGlyphs">f</tspan><tspan x="277.20" textLength="4.85" lengthAdjust="spacingAndGlyphs">l</tspan><tspan x="282.23" textLength="11.99" lengthAdjust="spacingAndGlyphs">o</tspan><tspan x="294.22" textLength="8.98" lengthAdjust="spacingAndGlyphs">z</tspan><tspan x="303.38" textLength="4.85" lengthAdjust="spacingAndGlyphs">i</tspan><tspan x="308.41" textLength="11.94" lengthAdjust="spacingAndGlyphs">n</tspan><tspan x="325.49">a</tspan><tspan x="336.71" textLength="7.27" lengthAdjust="spacingAndGlyphs">r</tspan><tspan x="344.31" textLength="11.31" lengthAdjust="spacingAndGlyphs">e</tspan><tspan x="361.08" textLength="7.27" lengthAdjust="spacingAndGlyphs">r</tspan><tspan x="368.68" textLength="11.31" lengthAdjust="spacingAndGlyphs">e</tspan><tspan x="379.99" textLength="9.61" lengthAdjust="spacingAndGlyphs">c</tspan><tspan x="389.60" textLength="11.99" lengthAdjust="spacingAndGlyphs">o</tspan><tspan x="401.59" textLength="18.16" lengthAdjust="spacingAndGlyphs">m</tspan><tspan x="419.74" textLength="18.16" lengthAdjust="spacingAndGlyphs">m</tspan><tspan x="437.90" textLength="11.31" lengthAdjust="spacingAndGlyphs">e</tspan><tspan x="449.21" textLength="11.94" lengthAdjust="spacingAndGlyphs">n</tspan><tspan x="461.15" textLength="11.94" lengthAdjust="spacingAndGlyphs">d</tspan><tspan x="473.09" textLength="11.31" lengthAdjust="spacingAndGlyphs">e</tspan><tspan x="484.40" textLength="11.94" lengthAdjust="spacingAndGlyphs">d</tspan><tspan x="501.92" textLength="6.07" lengthAdjust="spacingAndGlyphs">f</tspan><tspan x="508.42" textLength="11.99" lengthAdjust="spacingAndGlyphs">o</tspan><tspan x="520.73" textLength="7.27" lengthAdjust="spacingAndGlyphs">r</tspan><tspan x="533.47" textLength="11.94" lengthAdjust="spacingAndGlyphs">p</tspan><tspan x="545.41">a</tspan><tspan x="557.07" textLength="6.07" lengthAdjust="spacingAndGlyphs">t</tspan><tspan x="564.10" textLength="4.85" lengthAdjust="spacingAndGlyphs">i</tspan><tspan x="569.13" textLength="11.31" lengthAdjust="spacingAndGlyphs">e</tspan><tspan x="580.44" textLength="11.94" lengthAdjust="spacingAndGlyphs">n</tspan><tspan x="593.15" textLength="6.07" lengthAdjust="spacingAndGlyphs">t</tspan><tspan x="600.00" textLength="8.89" lengthAdjust="spacingAndGlyphs">s</tspan><tspan x="614.26" textLength="15.77" lengthAdjust="spacingAndGlyphs">w</tspan><tspan x="630.45" textLength="4.85" lengthAdjust="spacingAndGlyphs">i</tspan><tspan x="636.26" textLength="6.07" lengthAdjust="spacingAndGlyphs">t</tspan><tspan x="643.10" textLength="11.94" lengthAdjust="spacingAndGlyphs">h</tspan><tspan x="660.18">H</tspan><tspan x="674.35" textLength="10.44" lengthAdjust="spacingAndGlyphs">F</tspan><tspan x="685.11" textLength="7.27" lengthAdjust="spacingAndGlyphs">r</tspan><tspan x="692.71" textLength="11.10" lengthAdjust="spacingAndGlyphs">E</tspan><tspan x="703.81" textLength="10.44" lengthAdjust="spacingAndGlyphs">F</tspan><tspan x="720.17" textLength="6.07" lengthAdjust="spacingAndGlyphs">t</tspan><tspan x="727.01" textLength="11.99" lengthAdjust="spacingAndGlyphs">o</tspan></text>
<text y="375.10" font-size="19.50px" font-weight="normal" fill="#141414"><tspan x="47.68" textLength="7.27" lengthAdjust="spacingAndGlyphs">r</tspan><tspan x="55.27" textLength="11.31" lengthAdjust="spacingAndGlyphs">e</tspan><tspan x="66.58" textLength="11.94" lengthAdjust="spacingAndGlyphs">d</tspan><tspan x="78.53" textLength="11.94" lengthAdjust="spacingAndGlyphs">u</tspan><tspan x="90.47" textLength="9.61" lengthAdjust="spacingAndGlyphs">c</tspan><tspan x="100.08" textLength="11.31" lengthAdjust="spacingAndGlyphs">e</tspan><tspan x="117.30" textLength="6.07" lengthAdjust="spacingAndGlyphs">t</tspan><tspan x="124.14" textLength="11.94" lengthAdjust="spacingAndGlyphs">h</tspan><tspan x="136.08" textLength="11.31" lengthAdjust="spacingAndGlyphs">e</tspan><tspan x="152.86" textLength="7.27" lengthAdjust="spacingAndGlyphs">r</tspan><tspan x="160.64" textLength="4.85" lengthAdjust="spacingAndGlyphs">i</tspan><tspan x="165.67" textLength="8.89" lengthAdjust="spacingAndGlyphs">s</tspan><tspan x="174.56" textLength="10.33" lengthAdjust="spacingAndGlyphs">k</tspan><tspan x="190.03" textLength="11.99" lengthAdjust="spacingAndGlyphs">o</tspan><tspan x="202.45" textLength="6.07" lengthAdjust="spacingAndGlyphs">f</tspan><tspan x="214.10">H</tspan><tspan x="228.26" textLength="10.44" lengthAdjust="spacingAndGlyphs">F</tspan><tspan x="243.84" textLength="11.94" lengthAdjust="spacingAndGlyphs">h</tspan><tspan x="255.78" textLength="11.99" lengthAdjust="spacingAndGlyphs">o</tspan><tspan x="267.77" textLength="8.89" lengthAdjust="spacingAndGlyphs">s</tspan><tspan x="276.66" textLength="11.94" lengthAdjust="spacingAndGlyphs">p</tspan><tspan x="288.78" textLength="4.85" lengthAdjust="spacingAndGlyphs">i</tspan><tspan x="294.59" textLength="6.07" lengthAdjust="spacingAndGlyphs">t</tspan><tspan x="301.43">a</tspan><tspan x="312.50" textLength="4.85" lengthAdjust="spacingAndGlyphs">l</tspan><tspan x="317.72" textLength="4.85" lengthAdjust="spacingAndGlyphs">i</tspan><tspan x="322.75" textLength="8.98" lengthAdjust="spacingAndGlyphs">z</tspan><tspan x="331.73">a</tspan><tspan x="343.39" textLength="6.07" lengthAdjust="spacingAndGlyphs">t</tspan><tspan x="350.41" textLength="4.85" lengthAdjust="spacingAndGlyphs">i</tspan><tspan x="355.45" textLength="11.99" lengthAdjust="spacingAndGlyphs">o</tspan><tspan x="367.43" textLength="11.94" lengthAdjust="spacingAndGlyphs">n</tspan><tspan x="384.52">a</tspan><tspan x="395.40" textLength="11.94" lengthAdjust="spacingAndGlyphs">n</tspan><tspan x="407.35" textLength="11.94" lengthAdjust="spacingAndGlyphs">d</tspan><tspan x="424.43" textLength="11.94" lengthAdjust="spacingAndGlyphs">d</tspan><tspan x="436.37" textLength="11.31" lengthAdjust="spacingAndGlyphs">e</tspan><tspan x="447.68">a</tspan><tspan x="459.34" textLength="6.07" lengthAdjust="spacingAndGlyphs">t</tspan><tspan x="466.18" textLength="11.94" lengthAdjust="spacingAndGlyphs">h</tspan><tspan x="478.12" textLength="5.74" lengthAdjust="spacingAndGlyphs">.</tspan></text>
<text y="411.60" font-size="19.50px" font-weight="normal" fill="#141414"><tspan x="47.35" textLength="10.44" lengthAdjust="spacingAndGlyphs">S</tspan><tspan x="57.79">a</tspan><tspan x="68.68" textLength="9.61" lengthAdjust="spacingAndGlyphs">c</tspan><tspan x="78.29" textLength="11.94" lengthAdjust="spacingAndGlyphs">u</tspan><tspan x="90.24" textLength="11.94" lengthAdjust="spacingAndGlyphs">b</tspan><tspan x="102.36" textLength="4.85" lengthAdjust="spacingAndGlyphs">i</tspan><tspan x="108.17" textLength="6.07" lengthAdjust="spacingAndGlyphs">t</tspan><tspan x="115.33" textLength="7.27" lengthAdjust="spacingAndGlyphs">r</tspan><tspan x="123.11" textLength="4.85" lengthAdjust="spacingAndGlyphs">i</tspan><tspan x="128.33" textLength="4.85" lengthAdjust="spacingAndGlyphs">l</tspan><tspan x="134.72" textLength="6.07" lengthAdjust="spacingAndGlyphs">/</tspan><tspan x="142.14" textLength="10.27" lengthAdjust="spacingAndGlyphs">v</tspan><tspan x="152.41">a</tspan><tspan x="163.48" textLength="4.85" lengthAdjust="spacingAndGlyphs">l</tspan><tspan x="168.51" textLength="8.89" lengthAdjust="spacingAndGlyphs">s</tspan><tspan x="177.40">a</tspan><tspan x="188.62" textLength="7.27" lengthAdjust="spacingAndGlyphs">r</tspan><tspan x="196.99" textLength="6.07" lengthAdjust="spacingAndGlyphs">t</tspan><tspan x="203.83">a</tspan><tspan x="214.72" textLength="11.94" lengthAdjust="spacingAndGlyphs">n</tspan><tspan x="231.98" textLength="4.85" lengthAdjust="spacingAndGlyphs">i</tspan><tspan x="237.01" textLength="8.89" lengthAdjust="spacingAndGlyphs">s</tspan><tspan x="251.37" textLength="7.27" lengthAdjust="spacingAndGlyphs">r</tspan><tspan x="258.97" textLength="11.31" lengthAdjust="spacingAndGlyphs">e</tspan><tspan x="270.28" textLength="9.61" lengthAdjust="spacingAndGlyphs">c</tspan><tspan x="279.89" textLength="11.99" lengthAdjust="spacingAndGlyphs">o</tspan><tspan x="291.88" textLength="18.16" lengthAdjust="spacingAndGlyphs">m</tspan><tspan x="310.03" textLength="18.16" lengthAdjust="spacingAndGlyphs">m</tspan><tspan x="328.19" textLength="11.31" lengthAdjust="spacingAndGlyphs">e</tspan><tspan x="339.50" textLength="11.94" lengthAdjust="spacingAndGlyphs">n</tspan><tspan x="351.44" textLength="11.94" lengthAdjust="spacingAndGlyphs">d</tspan><tspan x="363.38" textLength="11.31" lengthAdjust="spacingAndGlyphs">e</tspan><tspan x="374.69" textLength="11.94" lengthAdjust="spacingAndGlyphs">d</tspan><tspan x="391.77">a</tspan><tspan x="402.66" textLength="8.89" lengthAdjust="spacingAndGlyphs">s</tspan><tspan x="416.69">a</tspan><tspan x="433.04" textLength="7.27" lengthAdjust="spacingAndGlyphs">r</tspan><tspan x="440.64" textLength="11.31" lengthAdjust="spacingAndGlyphs">e</tspan><tspan x="451.95" textLength="11.94" lengthAdjust="spacingAndGlyphs">p</tspan><tspan x="464.07" textLength="4.85" lengthAdjust="spacingAndGlyphs">l</tspan><tspan x="469.11">a</tspan><tspan x="480.00" textLength="9.61" lengthAdjust="spacingAndGlyphs">c</tspan><tspan x="489.61" textLength="11.31" lengthAdjust="spacingAndGlyphs">e</tspan><tspan x="500.92" textLength="18.16" lengthAdjust="spacingAndGlyphs">m</tspan><tspan x="519.08" textLength="11.31" lengthAdjust="spacingAndGlyphs">e</tspan><tspan x="530.38" textLength="11.94" lengthAdjust="spacingAndGlyphs">n</tspan><tspan x="543.10" textLength="6.07" lengthAdjust="spacingAndGlyphs">t</tspan><tspan x="555.51" textLength="6.07" lengthAdjust="spacingAndGlyphs">f</tspan><tspan x="562.02" textLength="11.99" lengthAdjust="spacingAndGlyphs">o</tspan><tspan x="574.33" textLength="7.27" lengthAdjust="spacingAndGlyphs">r</tspan><tspan x="587.07">a</tspan><tspan x="597.95" textLength="11.94" lengthAdjust="spacingAndGlyphs">n</tspan><tspan x="615.03" textLength="13.15" lengthAdjust="spacingAndGlyphs">A</tspan><tspan x="628.19" textLength="12.12" lengthAdjust="spacingAndGlyphs">C</tspan><tspan x="640.31" textLength="11.10" lengthAdjust="spacingAndGlyphs">E</tspan><tspan x="651.40" textLength="6.96" lengthAdjust="spacingAndGlyphs">-</tspan><tspan x="658.36" textLength="5.73" lengthAdjust="spacingAndGlyphs">I</tspan><tspan x="669.41" textLength="4.85" lengthAdjust="spacingAndGlyphs">i</tspan><tspan x="674.44" textLength="11.94" lengthAdjust="spacingAndGlyphs">n</tspan><tspan x="691.53" textLength="11.94" lengthAdjust="spacingAndGlyphs">p</tspan><tspan x="703.47">a</tspan><tspan x="715.13" textLength="6.07" lengthAdjust="spacingAndGlyphs">t</tspan><tspan x="722.15" textLength="4.85" lengthAdjust="spacingAndGlyphs">i</tspan><tspan x="727.19" textLength="11.31" lengthAdjust="spacingAndGlyphs">e</tspan><tspan x="738.50" textLength="11.94" lengthAdjust="spacingAndGlyphs">n</tspan><tspan x="751.21" textLength="6.07" lengthAdjust="spacingAndGlyphs">t</tspan><tspan x="758.05" textLength="8.89" lengthAdjust="spacingAndGlyphs">s</tspan></text>
<text y="438.50" font-size="19.50px" font-weight="normal" fill="#141414"><tspan x="47.59" textLength="15.77" lengthAdjust="spacingAndGlyphs">w</tspan><tspan x="63.78" textLength="4.85" lengthAdjust="spacingAndGlyphs">i</tspan><tspan x="69.59" textLength="6.07" lengthAdjust="spacingAndGlyphs">t</tspan><tspan x="76.43" textLength="11.94" lengthAdjust="spacingAndGlyphs">h</tspan><tspan x="93.51">H</tspan><tspan x="107.67" textLength="10.44" lengthAdjust="spacingAndGlyphs">F</tspan><tspan x="118.44" textLength="7.27" lengthAdjust="spacingAndGlyphs">r</tspan><tspan x="126.04" textLength="11.10" lengthAdjust="spacingAndGlyphs">E</tspan><tspan x="137.14" textLength="10.44" lengthAdjust="spacingAndGlyphs">F</tspan><tspan x="153.49" textLength="6.07" lengthAdjust="spacingAndGlyphs">t</tspan><tspan x="160.33" textLength="11.99" lengthAdjust="spacingAndGlyphs">o</tspan><tspan x="177.79" textLength="7.27" lengthAdjust="spacingAndGlyphs">r</tspan><tspan x="185.38" textLength="11.31" lengthAdjust="spacingAndGlyphs">e</tspan><tspan x="196.69" textLength="11.94" lengthAdjust="spacingAndGlyphs">d</tspan><tspan x="208.64" textLength="11.94" lengthAdjust="spacingAndGlyphs">u</tspan><tspan x="220.58" textLength="9.61" lengthAdjust="spacingAndGlyphs">c</tspan><tspan x="230.19" textLength="11.31" lengthAdjust="spacingAndGlyphs">e</tspan><tspan x="247.41" textLength="6.07" lengthAdjust="spacingAndGlyphs">t</tspan><tspan x="254.25" textLength="11.94" lengthAdjust="spacingAndGlyphs">h</tspan><tspan x="266.19" textLength="11.31" lengthAdjust="spacingAndGlyphs">e</tspan><tspan x="282.97" textLength="7.27" lengthAdjust="spacingAndGlyphs">r</tspan><tspan x="290.75" textLength="4.85" lengthAdjust="spacingAndGlyphs">i</tspan><tspan x="295.78" textLength="8.89" lengthAdjust="spacingAndGlyphs">s</tspan><tspan x="304.67" textLength="10.33" lengthAdjust="spacingAndGlyphs">k</tspan><tspan x="320.14" textLength="11.99" lengthAdjust="spacingAndGlyphs">o</tspan><tspan x="332.56" textLength="6.07" lengthAdjust="spacingAndGlyphs">f</tspan><tspan x="344.21">H</tspan><tspan x="358.37" textLength="10.44" lengthAdjust="spacingAndGlyphs">F</tspan><tspan x="373.95" textLength="11.94" lengthAdjust="spacingAndGlyphs">h</tspan><tspan x="385.89" textLength="11.99" lengthAdjust="spacingAndGlyphs">o</tspan><tspan x="397.88" textLength="8.89" lengthAdjust="spacingAndGlyphs">s</tspan><tspan x="406.77" textLength="11.94" lengthAdjust="spacingAndGlyphs">p</tspan><tspan x="418.89" textLength="4.85" lengthAdjust="spacingAndGlyphs">i</tspan><tspan x="424.70" textLength="6.07" lengthAdjust="spacingAndGlyphs">t</tspan><tspan x="431.54">a</tspan><tspan x="442.61" textLength="4.85" lengthAdjust="spacingAndGlyphs">l</tspan><tspan x="447.83" textLength="4.85" lengthAdjust="spacingAndGlyphs">i</tspan><tspan x="452.86" textLength="8.98" lengthAdjust="spacingAndGlyphs">z</tspan><tspan x="461.84">a</tspan><tspan x="473.50" textLength="6.07" lengthAdjust="spacingAndGlyphs">t</tspan><tspan x="480.52" textLength="4.85" lengthAdjust="spacingAndGlyphs">i</tspan><tspan x="485.56" textLength="11.99" lengthAdjust="spacingAndGlyphs">o</tspan><tspan x="497.54" textLength="11.94" lengthAdjust="spacingAndGlyphs">n</tspan><tspan x="514.62">a</tspan><tspan x="525.51" textLength="11.94" lengthAdjust="spacingAndGlyphs">n</tspan><tspan x="537.45" textLength="11.94" lengthAdjust="spacingAndGlyphs">d</tspan><tspan x="554.54" textLength="11.94" lengthAdjust="spacingAndGlyphs">d</tspan><tspan x="566.48" textLength="11.31" lengthAdjust="spacingAndGlyphs">e</tspan><tspan x="577.79">a</tspan><tspan x="589.45" textLength="6.07" lengthAdjust="spacingAndGlyphs">t</tspan><tspan x="596.29" textLength="11.94" lengthAdjust="spacingAndGlyphs">h</tspan><tspan x="608.23" textLength="5.74" lengthAdjust="spacingAndGlyphs">.</tspan></text>
<text y="463.20" font-size="9.60px" font-weight="normal" fill="#333"><tspan x="43.86" textLength="6.60" lengthAdjust="spacingAndGlyphs">A</tspan><tspan x="50.46" textLength="6.08" lengthAdjust="spacingAndGlyphs">C</tspan><tspan x="56.54" textLength="5.57" lengthAdjust="spacingAndGlyphs">E</tspan><tspan x="62.11" textLength="3.49" lengthAdjust="spacingAndGlyphs">-</tspan><tspan x="65.60" textLength="2.87" lengthAdjust="spacingAndGlyphs">I</tspan><tspan x="71.06" textLength="5.68" lengthAdjust="spacingAndGlyphs">=</tspan><tspan x="79.32" textLength="5.46" lengthAdjust="spacingAndGlyphs">a</tspan><tspan x="84.79" textLength="5.98" lengthAdjust="spacingAndGlyphs">n</tspan><tspan x="90.78">g</tspan><tspan x="96.26" textLength="2.39" lengthAdjust="spacingAndGlyphs">i</tspan><tspan x="98.78" textLength="5.98" lengthAdjust="spacingAndGlyphs">o</tspan><tspan x="105.20" textLength="2.99" lengthAdjust="spacingAndGlyphs">t</tspan><tspan x="108.60" textLength="5.68" lengthAdjust="spacingAndGlyphs">e</tspan><tspan x="114.28" textLength="5.98" lengthAdjust="spacingAndGlyphs">n</tspan><tspan x="120.27" textLength="4.46" lengthAdjust="spacingAndGlyphs">s</tspan><tspan x="124.85" textLength="2.39" lengthAdjust="spacingAndGlyphs">i</tspan><tspan x="127.36" textLength="5.98" lengthAdjust="spacingAndGlyphs">n</tspan><tspan x="133.35" textLength="3.49" lengthAdjust="spacingAndGlyphs">-</tspan><tspan x="136.84">c</tspan><tspan x="141.68" textLength="5.98" lengthAdjust="spacingAndGlyphs">o</tspan><tspan x="147.69" textLength="5.98" lengthAdjust="spacingAndGlyphs">n</tspan><tspan x="153.67" textLength="5.15" lengthAdjust="spacingAndGlyphs">v</tspan><tspan x="158.83" textLength="5.68" lengthAdjust="spacingAndGlyphs">e</tspan><tspan x="164.70" textLength="3.58" lengthAdjust="spacingAndGlyphs">r</tspan><tspan x="168.90" textLength="2.99" lengthAdjust="spacingAndGlyphs">t</tspan><tspan x="172.41" textLength="2.39" lengthAdjust="spacingAndGlyphs">i</tspan><tspan x="174.93" textLength="5.98" lengthAdjust="spacingAndGlyphs">n</tspan><tspan x="180.91">g</tspan><tspan x="188.86" textLength="5.68" lengthAdjust="spacingAndGlyphs">e</tspan><tspan x="194.54" textLength="5.98" lengthAdjust="spacingAndGlyphs">n</tspan><tspan x="200.53" textLength="4.51" lengthAdjust="spacingAndGlyphs">z</tspan><tspan x="205.04" textLength="5.16" lengthAdjust="spacingAndGlyphs">y</tspan><tspan x="210.28" textLength="8.96" lengthAdjust="spacingAndGlyphs">m</tspan><tspan x="219.32" textLength="5.68" lengthAdjust="spacingAndGlyphs">e</tspan><tspan x="227.69" textLength="2.39" lengthAdjust="spacingAndGlyphs">i</tspan><tspan x="230.20" textLength="5.98" lengthAdjust="spacingAndGlyphs">n</tspan><tspan x="236.19" textLength="5.98" lengthAdjust="spacingAndGlyphs">h</tspan><tspan x="242.29" textLength="2.39" lengthAdjust="spacingAndGlyphs">i</tspan><tspan x="244.80" textLength="5.98" lengthAdjust="spacingAndGlyphs">b</tspan><tspan x="250.90" textLength="2.39" lengthAdjust="spacingAndGlyphs">i</tspan><tspan x="253.82" textLength="2.99" lengthAdjust="spacingAndGlyphs">t</tspan><tspan x="257.25" textLength="5.98" lengthAdjust="spacingAndGlyphs">o</tspan><tspan x="263.44" textLength="3.58" lengthAdjust="spacingAndGlyphs">r</tspan><tspan x="267.25" textLength="2.99" lengthAdjust="spacingAndGlyphs">;</tspan><tspan x="272.85" textLength="7.11" lengthAdjust="spacingAndGlyphs">H</tspan><tspan x="279.96" textLength="5.24" lengthAdjust="spacingAndGlyphs">F</tspan><tspan x="287.78" textLength="5.68" lengthAdjust="spacingAndGlyphs">=</tspan><tspan x="296.05" textLength="5.98" lengthAdjust="spacingAndGlyphs">h</tspan><tspan x="302.04" textLength="5.68" lengthAdjust="spacingAndGlyphs">e</tspan><tspan x="307.71" textLength="5.46" lengthAdjust="spacingAndGlyphs">a</tspan><tspan x="313.38" textLength="3.58" lengthAdjust="spacingAndGlyphs">r</tspan><tspan x="317.57" textLength="2.99" lengthAdjust="spacingAndGlyphs">t</tspan><tspan x="323.80" textLength="2.99" lengthAdjust="spacingAndGlyphs">f</tspan><tspan x="327.04" textLength="5.46" lengthAdjust="spacingAndGlyphs">a</tspan><tspan x="332.62" textLength="2.39" lengthAdjust="spacingAndGlyphs">i</tspan><tspan x="335.24" textLength="2.39" lengthAdjust="spacingAndGlyphs">l</tspan><tspan x="337.75" textLength="5.98" lengthAdjust="spacingAndGlyphs">u</tspan><tspan x="343.93" textLength="3.58" lengthAdjust="spacingAndGlyphs">r</tspan><tspan x="347.71" textLength="5.68" lengthAdjust="spacingAndGlyphs">e</tspan><tspan x="353.42" textLength="2.99" lengthAdjust="spacingAndGlyphs">;</tspan><tspan x="359.02" textLength="7.11" lengthAdjust="spacingAndGlyphs">H</tspan><tspan x="366.13" textLength="5.24" lengthAdjust="spacingAndGlyphs">F</tspan><tspan x="371.57" textLength="3.58" lengthAdjust="spacingAndGlyphs">r</tspan><tspan x="375.35" textLength="5.57" lengthAdjust="spacingAndGlyphs">E</tspan><tspan x="380.92" textLength="5.24" lengthAdjust="spacingAndGlyphs">F</tspan><tspan x="388.74" textLength="5.68" lengthAdjust="spacingAndGlyphs">=</tspan><tspan x="397.01" textLength="5.98" lengthAdjust="spacingAndGlyphs">h</tspan><tspan x="402.99" textLength="5.68" lengthAdjust="spacingAndGlyphs">e</tspan><tspan x="408.67" textLength="5.46" lengthAdjust="spacingAndGlyphs">a</tspan><tspan x="414.33" textLength="3.58" lengthAdjust="spacingAndGlyphs">r</tspan><tspan x="418.53" textLength="2.99" lengthAdjust="spacingAndGlyphs">t</tspan><tspan x="424.76" textLength="2.99" lengthAdjust="spacingAndGlyphs">f</tspan><tspan x="427.99" textLength="5.46" lengthAdjust="spacingAndGlyphs">a</tspan><tspan x="433.57" textLength="2.39" lengthAdjust="spacingAndGlyphs">i</tspan><tspan x="436.19" textLength="2.39" lengthAdjust="spacingAndGlyphs">l</tspan><tspan x="438.70" textLength="5.98" lengthAdjust="spacingAndGlyphs">u</tspan><tspan x="444.89" textLength="3.58" lengthAdjust="spacingAndGlyphs">r</tspan><tspan x="448.66" textLength="5.68" lengthAdjust="spacingAndGlyphs">e</tspan><tspan x="457.12" textLength="7.76" lengthAdjust="spacingAndGlyphs">w</tspan><tspan x="465.19" textLength="2.39" lengthAdjust="spacingAndGlyphs">i</tspan><tspan x="468.11" textLength="2.99" lengthAdjust="spacingAndGlyphs">t</tspan><tspan x="471.52" textLength="5.98" lengthAdjust="spacingAndGlyphs">h</tspan><tspan x="480.29" textLength="3.58" lengthAdjust="spacingAndGlyphs">r</tspan><tspan x="484.07" textLength="5.68" lengthAdjust="spacingAndGlyphs">e</tspan><tspan x="489.75" textLength="5.98" lengthAdjust="spacingAndGlyphs">d</tspan><tspan x="495.74" textLength="5.98" lengthAdjust="spacingAndGlyphs">u</tspan><tspan x="501.73">c</tspan><tspan x="506.55" textLength="5.68" lengthAdjust="spacingAndGlyphs">e</tspan><tspan x="512.24" textLength="5.98" lengthAdjust="spacingAndGlyphs">d</tspan><tspan x="520.80" textLength="5.68" lengthAdjust="spacingAndGlyphs">e</tspan><tspan x="526.65" textLength="2.39" lengthAdjust="spacingAndGlyphs">j</tspan><tspan x="529.21" textLength="5.68" lengthAdjust="spacingAndGlyphs">e</tspan><tspan x="534.88">c</tspan><tspan x="540.13" textLength="2.99" lengthAdjust="spacingAndGlyphs">t</tspan><tspan x="543.64" textLength="2.39" lengthAdjust="spacingAndGlyphs">i</tspan><tspan x="546.17" textLength="5.98" lengthAdjust="spacingAndGlyphs">o</tspan><tspan x="552.17" textLength="5.98" lengthAdjust="spacingAndGlyphs">n</tspan><tspan x="560.98" textLength="2.99" lengthAdjust="spacingAndGlyphs">f</tspan><tspan x="564.42" textLength="3.58" lengthAdjust="spacingAndGlyphs">r</tspan><tspan x="568.20" textLength="5.46" lengthAdjust="spacingAndGlyphs">a</tspan><tspan x="573.66">c</tspan><tspan x="578.90" textLength="2.99" lengthAdjust="spacingAndGlyphs">t</tspan><tspan x="582.42" textLength="2.39" lengthAdjust="spacingAndGlyphs">i</tspan><tspan x="584.94" textLength="5.98" lengthAdjust="spacingAndGlyphs">o</tspan><tspan x="590.95" textLength="5.98" lengthAdjust="spacingAndGlyphs">n</tspan><tspan x="596.97" textLength="2.99" lengthAdjust="spacingAndGlyphs">;</tspan><tspan x="602.57" textLength="4.80" lengthAdjust="spacingAndGlyphs">L</tspan><tspan x="607.36" textLength="6.47" lengthAdjust="spacingAndGlyphs">V</tspan><tspan x="613.84" textLength="5.57" lengthAdjust="spacingAndGlyphs">E</tspan><tspan x="619.41" textLength="5.24" lengthAdjust="spacingAndGlyphs">F</tspan><tspan x="627.23" textLength="5.68" lengthAdjust="spacingAndGlyphs">=</tspan><tspan x="635.60" textLength="2.39" lengthAdjust="spacingAndGlyphs">l</tspan><tspan x="638.11" textLength="5.68" lengthAdjust="spacingAndGlyphs">e</tspan><tspan x="644.03" textLength="2.99" lengthAdjust="spacingAndGlyphs">f</tspan><tspan x="647.68" textLength="2.99" lengthAdjust="spacingAndGlyphs">t</tspan><tspan x="653.66" textLength="5.15" lengthAdjust="spacingAndGlyphs">v</tspan><tspan x="658.82" textLength="5.68" lengthAdjust="spacingAndGlyphs">e</tspan><tspan x="664.50" textLength="5.98" lengthAdjust="spacingAndGlyphs">n</tspan><tspan x="670.90" textLength="2.99" lengthAdjust="spacingAndGlyphs">t</tspan><tspan x="674.51" textLength="3.58" lengthAdjust="spacingAndGlyphs">r</tspan><tspan x="678.40" textLength="2.39" lengthAdjust="spacingAndGlyphs">i</tspan><tspan x="680.90">c</tspan><tspan x="685.74" textLength="5.98" lengthAdjust="spacingAndGlyphs">u</tspan><tspan x="691.84" textLength="2.39" lengthAdjust="spacingAndGlyphs">l</tspan><tspan x="694.34" textLength="5.46" lengthAdjust="spacingAndGlyphs">a</tspan><tspan x="700.00" textLength="3.58" lengthAdjust="spacingAndGlyphs">r</tspan><tspan x="706.36" textLength="5.68" lengthAdjust="spacingAndGlyphs">e</tspan><tspan x="712.21" textLength="2.39" lengthAdjust="spacingAndGlyphs">j</tspan><tspan x="714.77" textLength="5.68" lengthAdjust="spacingAndGlyphs">e</tspan><tspan x="720.44">c</tspan><tspan x="725.69" textLength="2.99" lengthAdjust="spacingAndGlyphs">t</tspan><tspan x="729.20" textLength="2.39" lengthAdjust="spacingAndGlyphs">i</tspan><tspan x="731.73" textLength="5.98" lengthAdjust="spacingAndGlyphs">o</tspan><tspan x="737.73" textLength="5.98" lengthAdjust="spacingAndGlyphs">n</tspan><tspan x="746.54" textLength="2.99" lengthAdjust="spacingAndGlyphs">f</tspan><tspan x="749.98" textLength="3.58" lengthAdjust="spacingAndGlyphs">r</tspan><tspan x="753.76" textLength="5.46" lengthAdjust="spacingAndGlyphs">a</tspan><tspan x="759.22">c</tspan><tspan x="764.46" textLength="2.99" lengthAdjust="spacingAndGlyphs">t</tspan><tspan x="767.98" textLength="2.39" lengthAdjust="spacingAndGlyphs">i</tspan><tspan x="770.50" textLength="5.98" lengthAdjust="spacingAndGlyphs">o</tspan><tspan x="776.51" textLength="5.98" lengthAdjust="spacingAndGlyphs">n</tspan><tspan x="782.53" textLength="2.99" lengthAdjust="spacingAndGlyphs">;</tspan></text>
<text y="476.10" font-size="9.60px" font-weight="normal" fill="#333"><tspan x="44.25" textLength="8.96" lengthAdjust="spacingAndGlyphs">M</tspan><tspan x="53.61" textLength="6.19" lengthAdjust="spacingAndGlyphs">R</tspan><tspan x="59.80" textLength="6.60" lengthAdjust="spacingAndGlyphs">A</tspan><tspan x="68.98" textLength="5.68" lengthAdjust="spacingAndGlyphs">=</tspan><tspan x="77.32" textLength="8.96" lengthAdjust="spacingAndGlyphs">m</tspan><tspan x="86.47" textLength="2.39" lengthAdjust="spacingAndGlyphs">i</tspan><tspan x="88.98" textLength="5.98" lengthAdjust="spacingAndGlyphs">n</tspan><tspan x="94.97" textLength="5.68" lengthAdjust="spacingAndGlyphs">e</tspan><tspan x="100.85" textLength="3.58" lengthAdjust="spacingAndGlyphs">r</tspan><tspan x="104.62" textLength="5.46" lengthAdjust="spacingAndGlyphs">a</tspan><tspan x="110.20" textLength="2.39" lengthAdjust="spacingAndGlyphs">l</tspan><tspan x="112.73" textLength="5.98" lengthAdjust="spacingAndGlyphs">o</tspan><tspan x="118.72">c</tspan><tspan x="123.57" textLength="5.98" lengthAdjust="spacingAndGlyphs">o</tspan><tspan x="129.76" textLength="3.58" lengthAdjust="spacingAndGlyphs">r</tspan><tspan x="133.96" textLength="2.99" lengthAdjust="spacingAndGlyphs">t</tspan><tspan x="137.48" textLength="2.39" lengthAdjust="spacingAndGlyphs">i</tspan><tspan x="139.98">c</tspan><tspan x="144.82" textLength="5.98" lengthAdjust="spacingAndGlyphs">o</tspan><tspan x="150.94" textLength="2.39" lengthAdjust="spacingAndGlyphs">i</tspan><tspan x="153.45" textLength="5.98" lengthAdjust="spacingAndGlyphs">d</tspan><tspan x="162.21" textLength="3.58" lengthAdjust="spacingAndGlyphs">r</tspan><tspan x="165.99" textLength="5.68" lengthAdjust="spacingAndGlyphs">e</tspan><tspan x="171.67">c</tspan><tspan x="176.49" textLength="5.68" lengthAdjust="spacingAndGlyphs">e</tspan><tspan x="182.17" textLength="5.98" lengthAdjust="spacingAndGlyphs">p</tspan><tspan x="188.58" textLength="2.99" lengthAdjust="spacingAndGlyphs">t</tspan><tspan x="192.00" textLength="5.98" lengthAdjust="spacingAndGlyphs">o</tspan><tspan x="198.20" textLength="3.58" lengthAdjust="spacingAndGlyphs">r</tspan><tspan x="204.55" textLength="5.46" lengthAdjust="spacingAndGlyphs">a</tspan><tspan x="210.03" textLength="5.98" lengthAdjust="spacingAndGlyphs">n</tspan><tspan x="216.43" textLength="2.99" lengthAdjust="spacingAndGlyphs">t</tspan><tspan x="219.83" textLength="5.46" lengthAdjust="spacingAndGlyphs">a</tspan><tspan x="225.30">g</tspan><tspan x="230.69" textLength="5.98" lengthAdjust="spacingAndGlyphs">o</tspan><tspan x="236.69" textLength="5.98" lengthAdjust="spacingAndGlyphs">n</tspan><tspan x="242.79" textLength="2.39" lengthAdjust="spacingAndGlyphs">i</tspan><tspan x="245.30" textLength="4.46" lengthAdjust="spacingAndGlyphs">s</tspan><tspan x="250.18" textLength="2.99" lengthAdjust="spacingAndGlyphs">t</tspan><tspan x="253.61" textLength="2.99" lengthAdjust="spacingAndGlyphs">;</tspan><tspan x="259.21" textLength="7.36" lengthAdjust="spacingAndGlyphs">N</tspan><tspan x="266.58" textLength="5.56" lengthAdjust="spacingAndGlyphs">Y</tspan><tspan x="272.13" textLength="7.11" lengthAdjust="spacingAndGlyphs">H</tspan><tspan x="279.24" textLength="6.60" lengthAdjust="spacingAndGlyphs">A</tspan><tspan x="285.84" textLength="5.68" lengthAdjust="spacingAndGlyphs">=</tspan><tspan x="294.11" textLength="7.36" lengthAdjust="spacingAndGlyphs">N</tspan><tspan x="301.47" textLength="5.68" lengthAdjust="spacingAndGlyphs">e</tspan><tspan x="307.34" textLength="7.76" lengthAdjust="spacingAndGlyphs">w</tspan><tspan x="317.88" textLength="5.56" lengthAdjust="spacingAndGlyphs">Y</tspan><tspan x="323.46" textLength="5.98" lengthAdjust="spacingAndGlyphs">o</tspan><tspan x="329.65" textLength="3.58" lengthAdjust="spacingAndGlyphs">r</tspan><tspan x="333.43" textLength="5.19" lengthAdjust="spacingAndGlyphs">k</tspan><tspan x="341.20" textLength="7.11" lengthAdjust="spacingAndGlyphs">H</tspan><tspan x="348.31" textLength="5.68" lengthAdjust="spacingAndGlyphs">e</tspan><tspan x="353.98" textLength="5.46" lengthAdjust="spacingAndGlyphs">a</tspan><tspan x="359.65" textLength="3.58" lengthAdjust="spacingAndGlyphs">r</tspan><tspan x="363.84" textLength="2.99" lengthAdjust="spacingAndGlyphs">t</tspan><tspan x="369.83" textLength="6.60" lengthAdjust="spacingAndGlyphs">A</tspan><tspan x="376.43" textLength="4.46" lengthAdjust="spacingAndGlyphs">s</tspan><tspan x="380.89" textLength="4.46" lengthAdjust="spacingAndGlyphs">s</tspan><tspan x="385.37" textLength="5.98" lengthAdjust="spacingAndGlyphs">o</tspan><tspan x="391.37">c</tspan><tspan x="396.30" textLength="2.39" lengthAdjust="spacingAndGlyphs">i</tspan><tspan x="398.81" textLength="5.46" lengthAdjust="spacingAndGlyphs">a</tspan><tspan x="404.69" textLength="2.99" lengthAdjust="spacingAndGlyphs">t</tspan><tspan x="408.21" textLength="2.39" lengthAdjust="spacingAndGlyphs">i</tspan><tspan x="410.73" textLength="5.98" lengthAdjust="spacingAndGlyphs">o</tspan><tspan x="416.74" textLength="5.98" lengthAdjust="spacingAndGlyphs">n</tspan><tspan x="422.72" textLength="2.88" lengthAdjust="spacingAndGlyphs">.</tspan></text>
<text y="545.50" font-size="12.40px" font-weight="bold" fill="#a41d36"><tspan x="64.55" textLength="10.57" lengthAdjust="spacingAndGlyphs">w</tspan><tspan x="75.13" textLength="10.57" lengthAdjust="spacingAndGlyphs">w</tspan><tspan x="85.70" textLength="10.57" lengthAdjust="spacingAndGlyphs">w</tspan><tspan x="96.27" textLength="3.79" lengthAdjust="spacingAndGlyphs">.</tspan><tspan x="100.06" textLength="7.14" lengthAdjust="spacingAndGlyphs">e</tspan><tspan x="107.21" textLength="5.66" lengthAdjust="spacingAndGlyphs">s</tspan><tspan x="112.87" textLength="5.94" lengthAdjust="spacingAndGlyphs">c</tspan><tspan x="118.81" textLength="7.01" lengthAdjust="spacingAndGlyphs">a</tspan><tspan x="125.81" textLength="5.04" lengthAdjust="spacingAndGlyphs">r</tspan><tspan x="130.86">d</tspan><tspan x="138.47" textLength="3.49" lengthAdjust="spacingAndGlyphs">i</tspan><tspan x="141.96">o</tspan><tspan x="149.59" textLength="3.79" lengthAdjust="spacingAndGlyphs">.</tspan><tspan x="153.38">o</tspan><tspan x="161.01" textLength="5.04" lengthAdjust="spacingAndGlyphs">r</tspan><tspan x="166.05" textLength="6.73" lengthAdjust="spacingAndGlyphs">g</tspan><tspan x="173.90" textLength="3.86" lengthAdjust="spacingAndGlyphs">/</tspan><tspan x="178.88" textLength="6.73" lengthAdjust="spacingAndGlyphs">g</tspan><tspan x="185.61">u</tspan><tspan x="193.22" textLength="3.49" lengthAdjust="spacingAndGlyphs">i</tspan><tspan x="196.71">d</tspan><tspan x="204.32" textLength="7.14" lengthAdjust="spacingAndGlyphs">e</tspan><tspan x="211.47" textLength="3.49" lengthAdjust="spacingAndGlyphs">l</tspan><tspan x="214.95" textLength="3.49" lengthAdjust="spacingAndGlyphs">i</tspan><tspan x="218.44">n</tspan><tspan x="226.05" textLength="7.14" lengthAdjust="spacingAndGlyphs">e</tspan><tspan x="233.20" textLength="5.66" lengthAdjust="spacingAndGlyphs">s</tspan></text>
<text y="537.00" font-size="10.60px" font-weight="normal" fill="#3a3a3a"><tspan x="535.89" textLength="5.76" lengthAdjust="spacingAndGlyphs">2</tspan><tspan x="541.65" textLength="5.76" lengthAdjust="spacingAndGlyphs">0</tspan><tspan x="547.42" textLength="5.76" lengthAdjust="spacingAndGlyphs">2</tspan><tspan x="553.18" textLength="5.76" lengthAdjust="spacingAndGlyphs">1</tspan><tspan x="561.52" textLength="5.55" lengthAdjust="spacingAndGlyphs">E</tspan><tspan x="567.04" textLength="5.30" lengthAdjust="spacingAndGlyphs">S</tspan><tspan x="572.30" textLength="6.06" lengthAdjust="spacingAndGlyphs">C</tspan><tspan x="580.94" textLength="7.18" lengthAdjust="spacingAndGlyphs">G</tspan><tspan x="588.11" textLength="5.98" lengthAdjust="spacingAndGlyphs">u</tspan><tspan x="594.09" textLength="2.61" lengthAdjust="spacingAndGlyphs">i</tspan><tspan x="596.70" textLength="5.98" lengthAdjust="spacingAndGlyphs">d</tspan><tspan x="602.67" textLength="5.66" lengthAdjust="spacingAndGlyphs">e</tspan><tspan x="608.33" textLength="2.61" lengthAdjust="spacingAndGlyphs">l</tspan><tspan x="610.94" textLength="2.61" lengthAdjust="spacingAndGlyphs">i</tspan><tspan x="613.55" textLength="5.98" lengthAdjust="spacingAndGlyphs">n</tspan><tspan x="619.53" textLength="5.66" lengthAdjust="spacingAndGlyphs">e</tspan><tspan x="625.19" textLength="4.45" lengthAdjust="spacingAndGlyphs">s</tspan><tspan x="632.29" textLength="3.30" lengthAdjust="spacingAndGlyphs">f</tspan><tspan x="635.68" textLength="6.00" lengthAdjust="spacingAndGlyphs">o</tspan><tspan x="641.68" textLength="3.95" lengthAdjust="spacingAndGlyphs">r</tspan><tspan x="648.47" textLength="3.30" lengthAdjust="spacingAndGlyphs">t</tspan><tspan x="652.02" textLength="5.98" lengthAdjust="spacingAndGlyphs">h</tspan><tspan x="658.00" textLength="5.66" lengthAdjust="spacingAndGlyphs">e</tspan><tspan x="666.23" textLength="5.98" lengthAdjust="spacingAndGlyphs">d</tspan><tspan x="672.21" textLength="2.61" lengthAdjust="spacingAndGlyphs">i</tspan><tspan x="674.82" textLength="5.45" lengthAdjust="spacingAndGlyphs">a</tspan><tspan x="680.27" textLength="5.35" lengthAdjust="spacingAndGlyphs">g</tspan><tspan x="685.62" textLength="5.98" lengthAdjust="spacingAndGlyphs">n</tspan><tspan x="691.59" textLength="6.00" lengthAdjust="spacingAndGlyphs">o</tspan><tspan x="697.59" textLength="4.45" lengthAdjust="spacingAndGlyphs">s</tspan><tspan x="702.04" textLength="2.61" lengthAdjust="spacingAndGlyphs">i</tspan><tspan x="704.65" textLength="4.45" lengthAdjust="spacingAndGlyphs">s</tspan><tspan x="711.67" textLength="5.45" lengthAdjust="spacingAndGlyphs">a</tspan><tspan x="717.12" textLength="5.98" lengthAdjust="spacingAndGlyphs">n</tspan><tspan x="723.10" textLength="5.98" lengthAdjust="spacingAndGlyphs">d</tspan><tspan x="731.90" textLength="3.30" lengthAdjust="spacingAndGlyphs">t</tspan><tspan x="735.46" textLength="3.95" lengthAdjust="spacingAndGlyphs">r</tspan><tspan x="739.42" textLength="5.66" lengthAdjust="spacingAndGlyphs">e</tspan><tspan x="745.08" textLength="5.45" lengthAdjust="spacingAndGlyphs">a</tspan><tspan x="750.78" textLength="3.30" lengthAdjust="spacingAndGlyphs">t</tspan><tspan x="754.34" textLength="9.09" lengthAdjust="spacingAndGlyphs">m</tspan><tspan x="763.42" textLength="5.66" lengthAdjust="spacingAndGlyphs">e</tspan><tspan x="769.08" textLength="5.98" lengthAdjust="spacingAndGlyphs">n</tspan><tspan x="775.31" textLength="3.30" lengthAdjust="spacingAndGlyphs">t</tspan><tspan x="781.44" textLength="6.00" lengthAdjust="spacingAndGlyphs">o</tspan><tspan x="787.52" textLength="3.30" lengthAdjust="spacingAndGlyphs">f</tspan><tspan x="793.48" textLength="5.45" lengthAdjust="spacingAndGlyphs">a</tspan><tspan x="798.93" textLength="4.81" lengthAdjust="spacingAndGlyphs">c</tspan><tspan x="803.74" textLength="5.98" lengthAdjust="spacingAndGlyphs">u</tspan><tspan x="809.97" textLength="3.30" lengthAdjust="spacingAndGlyphs">t</tspan><tspan x="813.52" textLength="5.66" lengthAdjust="spacingAndGlyphs">e</tspan><tspan x="821.75" textLength="5.45" lengthAdjust="spacingAndGlyphs">a</tspan><tspan x="827.20" textLength="5.98" lengthAdjust="spacingAndGlyphs">n</tspan><tspan x="833.18" textLength="5.98" lengthAdjust="spacingAndGlyphs">d</tspan><tspan x="841.72" textLength="4.81" lengthAdjust="spacingAndGlyphs">c</tspan><tspan x="846.53" textLength="5.98" lengthAdjust="spacingAndGlyphs">h</tspan><tspan x="852.52" textLength="3.95" lengthAdjust="spacingAndGlyphs">r</tspan><tspan x="856.48" textLength="6.00" lengthAdjust="spacingAndGlyphs">o</tspan><tspan x="862.47" textLength="5.98" lengthAdjust="spacingAndGlyphs">n</tspan><tspan x="868.45" textLength="2.61" lengthAdjust="spacingAndGlyphs">i</tspan><tspan x="871.06" textLength="4.81" lengthAdjust="spacingAndGlyphs">c</tspan><tspan x="878.44" textLength="5.98" lengthAdjust="spacingAndGlyphs">h</tspan><tspan x="884.42" textLength="5.66" lengthAdjust="spacingAndGlyphs">e</tspan><tspan x="890.08" textLength="5.45" lengthAdjust="spacingAndGlyphs">a</tspan><tspan x="895.53" textLength="3.95" lengthAdjust="spacingAndGlyphs">r</tspan><tspan x="899.74" textLength="3.30" lengthAdjust="spacingAndGlyphs">t</tspan><tspan x="905.96" textLength="3.30" lengthAdjust="spacingAndGlyphs">f</tspan><tspan x="909.34" textLength="5.45" lengthAdjust="spacingAndGlyphs">a</tspan><tspan x="914.79" textLength="2.61" lengthAdjust="spacingAndGlyphs">i</tspan><tspan x="917.40" textLength="2.61" lengthAdjust="spacingAndGlyphs">l</tspan><tspan x="920.01" textLength="5.98" lengthAdjust="spacingAndGlyphs">u</tspan><tspan x="925.99" textLength="3.95" lengthAdjust="spacingAndGlyphs">r</tspan><tspan x="929.95" textLength="5.66" lengthAdjust="spacingAndGlyphs">e</tspan></text>
<text y="550.80" font-size="10.60px" font-weight="normal" fill="#3a3a3a"><tspan x="635.56" textLength="3.46" lengthAdjust="spacingAndGlyphs">(</tspan><tspan x="639.03" textLength="5.58" lengthAdjust="spacingAndGlyphs">E</tspan><tspan x="644.60" textLength="6.00" lengthAdjust="spacingAndGlyphs">u</tspan><tspan x="650.62" textLength="3.95" lengthAdjust="spacingAndGlyphs">r</tspan><tspan x="654.59" textLength="6.02" lengthAdjust="spacingAndGlyphs">o</tspan><tspan x="660.61" textLength="6.00" lengthAdjust="spacingAndGlyphs">p</tspan><tspan x="666.61" textLength="5.68" lengthAdjust="spacingAndGlyphs">e</tspan><tspan x="672.29" textLength="5.47" lengthAdjust="spacingAndGlyphs">a</tspan><tspan x="677.77" textLength="6.00" lengthAdjust="spacingAndGlyphs">n</tspan><tspan x="686.35" textLength="7.12" lengthAdjust="spacingAndGlyphs">H</tspan><tspan x="693.47" textLength="5.68" lengthAdjust="spacingAndGlyphs">e</tspan><tspan x="699.15" textLength="5.47" lengthAdjust="spacingAndGlyphs">a</tspan><tspan x="704.63" textLength="3.95" lengthAdjust="spacingAndGlyphs">r</tspan><tspan x="708.87" textLength="3.30" lengthAdjust="spacingAndGlyphs">t</tspan><tspan x="714.84" textLength="3.97" lengthAdjust="spacingAndGlyphs">J</tspan><tspan x="718.65" textLength="6.02" lengthAdjust="spacingAndGlyphs">o</tspan><tspan x="724.68" textLength="6.00" lengthAdjust="spacingAndGlyphs">u</tspan><tspan x="730.69" textLength="3.95" lengthAdjust="spacingAndGlyphs">r</tspan><tspan x="734.66" textLength="6.00" lengthAdjust="spacingAndGlyphs">n</tspan><tspan x="740.66" textLength="5.47" lengthAdjust="spacingAndGlyphs">a</tspan><tspan x="746.13" textLength="2.62" lengthAdjust="spacingAndGlyphs">l</tspan><tspan x="751.33" textLength="5.79" lengthAdjust="spacingAndGlyphs">2</tspan><tspan x="757.12" textLength="5.79" lengthAdjust="spacingAndGlyphs">0</tspan><tspan x="762.91" textLength="5.79" lengthAdjust="spacingAndGlyphs">2</tspan><tspan x="768.70" textLength="5.79" lengthAdjust="spacingAndGlyphs">1</tspan><tspan x="777.07" textLength="5.69" lengthAdjust="spacingAndGlyphs">–</tspan><tspan x="785.34" textLength="6.00" lengthAdjust="spacingAndGlyphs">d</tspan><tspan x="791.34" textLength="6.02" lengthAdjust="spacingAndGlyphs">o</tspan><tspan x="797.37" textLength="2.62" lengthAdjust="spacingAndGlyphs">i</tspan><tspan x="799.99" textLength="3.06" lengthAdjust="spacingAndGlyphs">:</tspan><tspan x="803.05" textLength="5.79" lengthAdjust="spacingAndGlyphs">1</tspan><tspan x="808.83" textLength="5.79" lengthAdjust="spacingAndGlyphs">0</tspan><tspan x="814.62" textLength="2.88" lengthAdjust="spacingAndGlyphs">.</tspan><tspan x="817.51" textLength="5.79" lengthAdjust="spacingAndGlyphs">1</tspan><tspan x="823.30" textLength="5.79" lengthAdjust="spacingAndGlyphs">0</tspan><tspan x="829.09" textLength="5.79" lengthAdjust="spacingAndGlyphs">9</tspan><tspan x="834.87" textLength="5.79" lengthAdjust="spacingAndGlyphs">3</tspan><tspan x="841.22" textLength="3.30" lengthAdjust="spacingAndGlyphs">/</tspan><tspan x="845.08" textLength="5.68" lengthAdjust="spacingAndGlyphs">e</tspan><tspan x="850.76" textLength="6.00" lengthAdjust="spacingAndGlyphs">u</tspan><tspan x="856.77" textLength="3.95" lengthAdjust="spacingAndGlyphs">r</tspan><tspan x="860.74" textLength="6.00" lengthAdjust="spacingAndGlyphs">h</tspan><tspan x="866.74" textLength="5.68" lengthAdjust="spacingAndGlyphs">e</tspan><tspan x="872.43" textLength="5.47" lengthAdjust="spacingAndGlyphs">a</tspan><tspan x="877.91" textLength="3.95" lengthAdjust="spacingAndGlyphs">r</tspan><tspan x="882.14" textLength="3.30" lengthAdjust="spacingAndGlyphs">t</tspan><tspan x="885.75" textLength="2.64" lengthAdjust="spacingAndGlyphs">j</tspan><tspan x="888.99" textLength="3.30" lengthAdjust="spacingAndGlyphs">/</tspan><tspan x="892.85" textLength="5.68" lengthAdjust="spacingAndGlyphs">e</tspan><tspan x="898.53" textLength="6.00" lengthAdjust="spacingAndGlyphs">h</tspan><tspan x="904.53" textLength="5.47" lengthAdjust="spacingAndGlyphs">a</tspan><tspan x="910.00" textLength="6.00" lengthAdjust="spacingAndGlyphs">b</tspan><tspan x="916.01" textLength="5.79" lengthAdjust="spacingAndGlyphs">3</tspan><tspan x="921.79" textLength="5.79" lengthAdjust="spacingAndGlyphs">6</tspan><tspan x="927.58" textLength="5.79" lengthAdjust="spacingAndGlyphs">8</tspan><tspan x="933.37" textLength="3.46" lengthAdjust="spacingAndGlyphs">)</tspan></text>
<text y="0" fill="#1e1e1e" stroke="#1e1e1e" stroke-width="0.25" transform="translate(968.6,498.4) rotate(-90)"><tspan x="-0.2" font-size="11px" textLength="6.5" lengthAdjust="spacingAndGlyphs">©</tspan><tspan x="7.56" font-size="10.0px" textLength="6.03" lengthAdjust="spacingAndGlyphs">E</tspan><tspan x="13.78" font-size="10.0px" textLength="6.14" lengthAdjust="spacingAndGlyphs">S</tspan><tspan x="19.78" font-size="10.0px" textLength="5.93" lengthAdjust="spacingAndGlyphs">C</tspan></text>
</svg>
</body></html>
